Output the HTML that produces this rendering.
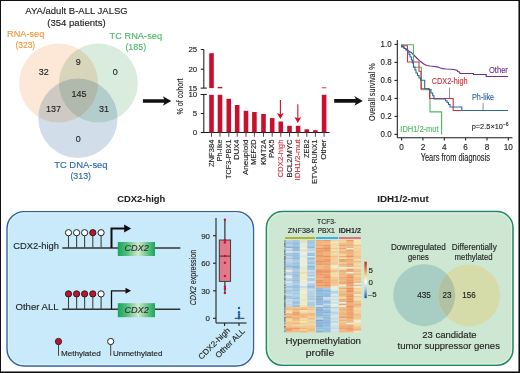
<!DOCTYPE html><html><head><meta charset="utf-8"><style>html,body{margin:0;padding:0;background:#fff;overflow:hidden}svg{display:block}text{font-family:"Liberation Sans",sans-serif}</style></head><body>
<svg width="520" height="373" viewBox="0 0 520 373">
<rect x="0" y="0" width="520" height="373" fill="#fff"/>
<text x="76.5" y="14.2" font-size="8.8" fill="#222" text-anchor="middle" font-weight="normal" font-style="normal" textLength="102.5" lengthAdjust="spacingAndGlyphs"  stroke="#222" stroke-width="0.13">AYA/adult B-ALL JALSG</text>
<text x="76.5" y="25.7" font-size="8.8" fill="#222" text-anchor="middle" font-weight="normal" font-style="normal" textLength="58.3" lengthAdjust="spacingAndGlyphs"  stroke="#222" stroke-width="0.13">(354 patients)</text>
<g style="isolation:isolate">
<circle cx="58.6" cy="83" r="39.5" fill="#fde7d6" style="mix-blend-mode:multiply"/>
<circle cx="98.4" cy="83" r="39.5" fill="#d9ecde" style="mix-blend-mode:multiply"/>
<circle cx="77.9" cy="118.3" r="39.7" fill="#d1deea" style="mix-blend-mode:multiply"/>
</g>
<text x="25.7" y="36.8" font-size="9.2" fill="#f39537" text-anchor="middle" font-weight="normal" font-style="normal" textLength="37.3" lengthAdjust="spacingAndGlyphs"  stroke="#f39537" stroke-width="0.13">RNA-seq</text>
<text x="25.3" y="48.0" font-size="9.2" fill="#f39537" text-anchor="middle" font-weight="normal" font-style="normal" textLength="19.7" lengthAdjust="spacingAndGlyphs"  stroke="#f39537" stroke-width="0.13">(323)</text>
<text x="135.8" y="39.1" font-size="9.2" fill="#4cba6a" text-anchor="middle" font-weight="normal" font-style="normal" textLength="52.6" lengthAdjust="spacingAndGlyphs"  stroke="#4cba6a" stroke-width="0.13">TC RNA-seq</text>
<text x="135.8" y="50.3" font-size="9.2" fill="#4cba6a" text-anchor="middle" font-weight="normal" font-style="normal" textLength="20.8" lengthAdjust="spacingAndGlyphs"  stroke="#4cba6a" stroke-width="0.13">(185)</text>
<text x="80.9" y="167.6" font-size="9.2" fill="#2d69a6" text-anchor="middle" font-weight="normal" font-style="normal" textLength="53.4" lengthAdjust="spacingAndGlyphs"  stroke="#2d69a6" stroke-width="0.13">TC DNA-seq</text>
<text x="80.7" y="179.4" font-size="9.2" fill="#2d69a6" text-anchor="middle" font-weight="normal" font-style="normal" textLength="20.6" lengthAdjust="spacingAndGlyphs"  stroke="#2d69a6" stroke-width="0.13">(313)</text>
<text x="43.8" y="74.5" font-size="9.8" fill="#222" text-anchor="middle" font-weight="normal" font-style="normal" textLength="10.0" lengthAdjust="spacingAndGlyphs"  stroke="#222" stroke-width="0.13">32</text>
<text x="78.2" y="65.4" font-size="9.8" fill="#222" text-anchor="middle" font-weight="normal" font-style="normal" textLength="5.0" lengthAdjust="spacingAndGlyphs"  stroke="#222" stroke-width="0.13">9</text>
<text x="115.2" y="74.6" font-size="9.8" fill="#222" text-anchor="middle" font-weight="normal" font-style="normal" textLength="5.0" lengthAdjust="spacingAndGlyphs"  stroke="#222" stroke-width="0.13">0</text>
<text x="78.9" y="96.5" font-size="9.8" fill="#222" text-anchor="middle" font-weight="normal" font-style="normal" textLength="15.0" lengthAdjust="spacingAndGlyphs"  stroke="#222" stroke-width="0.13">145</text>
<text x="53.6" y="111.5" font-size="9.8" fill="#222" text-anchor="middle" font-weight="normal" font-style="normal" textLength="15.0" lengthAdjust="spacingAndGlyphs"  stroke="#222" stroke-width="0.13">137</text>
<text x="104" y="111.5" font-size="9.8" fill="#222" text-anchor="middle" font-weight="normal" font-style="normal" textLength="10.0" lengthAdjust="spacingAndGlyphs"  stroke="#222" stroke-width="0.13">31</text>
<text x="78.3" y="142.1" font-size="9.8" fill="#222" text-anchor="middle" font-weight="normal" font-style="normal" textLength="5.0" lengthAdjust="spacingAndGlyphs"  stroke="#222" stroke-width="0.13">0</text>
<path d="M142.9,99.2 L164.3,99.2 L162.8,96.2 L171.3,101 L162.8,105.8 L164.3,102.8 L142.9,102.8 Z" fill="#111"/>
<path d="M334.2,99.10000000000001 L355.8,99.10000000000001 L354.3,96.10000000000001 L362.8,100.9 L354.3,105.7 L355.8,102.7 L334.2,102.7 Z" fill="#111"/>
<g stroke="#1a1a1a" stroke-width="1.05" fill="none">
<line x1="203.8" y1="49.5" x2="203.8" y2="88.1"/>
<line x1="200.8" y1="49.5" x2="203.8" y2="49.5"/>
<line x1="200.8" y1="69.2" x2="203.8" y2="69.2"/>
<line x1="200.60000000000002" y1="88.1" x2="206.8" y2="88.1"/>
<line x1="203.8" y1="94.5" x2="203.8" y2="132.4"/>
<line x1="200.60000000000002" y1="94.5" x2="206.8" y2="94.5"/>
<line x1="200.8" y1="113.5" x2="203.8" y2="113.5"/>
<line x1="200.8" y1="132.4" x2="329.6" y2="132.4"/>
</g>
<text x="197.2" y="52.3" font-size="7.9" fill="#222" text-anchor="end" font-weight="normal" font-style="normal"  stroke="#222" stroke-width="0.13">25</text>
<text x="197.2" y="72.0" font-size="7.9" fill="#222" text-anchor="end" font-weight="normal" font-style="normal"  stroke="#222" stroke-width="0.13">20</text>
<text x="197.2" y="90.89999999999999" font-size="7.9" fill="#222" text-anchor="end" font-weight="normal" font-style="normal"  stroke="#222" stroke-width="0.13">15</text>
<text x="197.2" y="97.3" font-size="7.9" fill="#222" text-anchor="end" font-weight="normal" font-style="normal"  stroke="#222" stroke-width="0.13">10</text>
<text x="197.2" y="116.3" font-size="7.9" fill="#222" text-anchor="end" font-weight="normal" font-style="normal"  stroke="#222" stroke-width="0.13">5</text>
<text x="197.2" y="135.20000000000002" font-size="7.9" fill="#222" text-anchor="end" font-weight="normal" font-style="normal"  stroke="#222" stroke-width="0.13">0</text>
<text transform="translate(183.0,96.5) rotate(-90)" font-size="9" fill="#222" text-anchor="middle" textLength="36" lengthAdjust="spacingAndGlyphs" stroke="#222" stroke-width="0.13">% of cohort</text>
<rect x="209.2" y="94.8" width="4.6" height="37.60000000000001" fill="#c8102e"/>
<line x1="211.5" y1="132.4" x2="211.5" y2="136.8" stroke="#222" stroke-width="0.8"/>
<text transform="translate(213.5,139.5) rotate(-90)" font-size="8.1" fill="#222" text-anchor="end" textLength="27.6" lengthAdjust="spacingAndGlyphs" stroke="#222" stroke-width="0.13">ZNF384</text>
<rect x="217.7" y="94.8" width="4.6" height="37.60000000000001" fill="#c8102e"/>
<line x1="220.0" y1="132.4" x2="220.0" y2="136.8" stroke="#222" stroke-width="0.8"/>
<text transform="translate(222.0,139.5) rotate(-90)" font-size="8.1" fill="#222" text-anchor="end" textLength="21.8" lengthAdjust="spacingAndGlyphs" stroke="#222" stroke-width="0.13">Ph-like</text>
<rect x="226.5" y="98.8" width="4.6" height="33.60000000000001" fill="#c8102e"/>
<line x1="228.8" y1="132.4" x2="228.8" y2="136.8" stroke="#222" stroke-width="0.8"/>
<text transform="translate(230.8,139.5) rotate(-90)" font-size="8.1" fill="#222" text-anchor="end" textLength="39.6" lengthAdjust="spacingAndGlyphs" stroke="#222" stroke-width="0.13">TCF3-PBX1</text>
<rect x="234.9" y="105" width="4.6" height="27.400000000000006" fill="#c8102e"/>
<line x1="237.20000000000002" y1="132.4" x2="237.20000000000002" y2="136.8" stroke="#222" stroke-width="0.8"/>
<text transform="translate(239.20000000000002,139.5) rotate(-90)" font-size="8.1" fill="#222" text-anchor="end" textLength="20.2" lengthAdjust="spacingAndGlyphs" stroke="#222" stroke-width="0.13">DUX4</text>
<rect x="243.7" y="110.8" width="4.6" height="21.60000000000001" fill="#c8102e"/>
<line x1="246.0" y1="132.4" x2="246.0" y2="136.8" stroke="#222" stroke-width="0.8"/>
<text transform="translate(248.0,139.5) rotate(-90)" font-size="8.1" fill="#222" text-anchor="end" textLength="35.6" lengthAdjust="spacingAndGlyphs" stroke="#222" stroke-width="0.13">Aneuploid</text>
<rect x="252.1" y="112" width="4.6" height="20.400000000000006" fill="#c8102e"/>
<line x1="254.4" y1="132.4" x2="254.4" y2="136.8" stroke="#222" stroke-width="0.8"/>
<text transform="translate(256.4,139.5) rotate(-90)" font-size="8.1" fill="#222" text-anchor="end" textLength="25.2" lengthAdjust="spacingAndGlyphs" stroke="#222" stroke-width="0.13">MEF2D</text>
<rect x="261.2" y="113.9" width="4.6" height="18.5" fill="#c8102e"/>
<line x1="263.5" y1="132.4" x2="263.5" y2="136.8" stroke="#222" stroke-width="0.8"/>
<text transform="translate(265.5,139.5) rotate(-90)" font-size="8.1" fill="#222" text-anchor="end" textLength="25.2" lengthAdjust="spacingAndGlyphs" stroke="#222" stroke-width="0.13">KMT2A</text>
<rect x="269.9" y="118.1" width="4.6" height="14.300000000000011" fill="#c8102e"/>
<line x1="272.2" y1="132.4" x2="272.2" y2="136.8" stroke="#222" stroke-width="0.8"/>
<text transform="translate(274.2,139.5) rotate(-90)" font-size="8.1" fill="#222" text-anchor="end" textLength="18.3" lengthAdjust="spacingAndGlyphs" stroke="#222" stroke-width="0.13">PAX5</text>
<rect x="278.5" y="121.5" width="4.6" height="10.900000000000006" fill="#c8102e"/>
<line x1="280.8" y1="132.4" x2="280.8" y2="136.8" stroke="#222" stroke-width="0.8"/>
<text transform="translate(282.8,139.5) rotate(-90)" font-size="8.1" fill="#d2303f" text-anchor="end" textLength="38.0" lengthAdjust="spacingAndGlyphs" stroke="#d2303f" stroke-width="0.13">CDX2-high</text>
<rect x="287.2" y="125.8" width="4.6" height="6.6000000000000085" fill="#c8102e"/>
<line x1="289.5" y1="132.4" x2="289.5" y2="136.8" stroke="#222" stroke-width="0.8"/>
<text transform="translate(291.5,139.5) rotate(-90)" font-size="8.1" fill="#222" text-anchor="end" textLength="38.0" lengthAdjust="spacingAndGlyphs" stroke="#222" stroke-width="0.13">BCL2/MYC</text>
<rect x="295.8" y="125.8" width="4.6" height="6.6000000000000085" fill="#c8102e"/>
<line x1="298.1" y1="132.4" x2="298.1" y2="136.8" stroke="#222" stroke-width="0.8"/>
<text transform="translate(300.1,139.5) rotate(-90)" font-size="8.1" fill="#d2303f" text-anchor="end" textLength="41.0" lengthAdjust="spacingAndGlyphs" stroke="#d2303f" stroke-width="0.13">IDH1/2-mut</text>
<rect x="304.5" y="129.3" width="4.6" height="3.0999999999999943" fill="#c8102e"/>
<line x1="306.8" y1="132.4" x2="306.8" y2="136.8" stroke="#222" stroke-width="0.8"/>
<text transform="translate(308.8,139.5) rotate(-90)" font-size="8.1" fill="#222" text-anchor="end" textLength="18.4" lengthAdjust="spacingAndGlyphs" stroke="#222" stroke-width="0.13">ZEB2</text>
<rect x="313.1" y="130.2" width="4.6" height="2.200000000000017" fill="#c8102e"/>
<line x1="315.40000000000003" y1="132.4" x2="315.40000000000003" y2="136.8" stroke="#222" stroke-width="0.8"/>
<text transform="translate(317.40000000000003,139.5) rotate(-90)" font-size="8.1" fill="#222" text-anchor="end" textLength="44.2" lengthAdjust="spacingAndGlyphs" stroke="#222" stroke-width="0.13">ETV6-RUNX1</text>
<rect x="321.8" y="94.8" width="4.6" height="37.60000000000001" fill="#c8102e"/>
<line x1="324.1" y1="132.4" x2="324.1" y2="136.8" stroke="#222" stroke-width="0.8"/>
<text transform="translate(326.1,139.5) rotate(-90)" font-size="8.1" fill="#222" text-anchor="end" textLength="20.2" lengthAdjust="spacingAndGlyphs" stroke="#222" stroke-width="0.13">Other</text>
<rect x="209.2" y="53.2" width="4.6" height="34.9" fill="#c8102e"/>
<rect x="217.7" y="86.9" width="4.6" height="1.4" fill="#c8102e"/>
<rect x="321.8" y="87.0" width="4.6" height="1.4" fill="#e8707e"/>
<line x1="280.4" y1="99.9" x2="280.4" y2="114.6" stroke="#c8102e" stroke-width="1.1"/>
<path d="M277.0,113.0 L280.4,119.0 L283.79999999999995,113.0 L280.4,114.3 Z" fill="#c8102e"/>
<line x1="297.8" y1="104.2" x2="297.8" y2="118.6" stroke="#c8102e" stroke-width="1.1"/>
<path d="M294.40000000000003,117.0 L297.8,123.0 L301.2,117.0 L297.8,118.3 Z" fill="#c8102e"/>
<g stroke="#1a1a1a" stroke-width="1.05" fill="none">
<line x1="397.3" y1="40" x2="397.3" y2="137.8"/>
<line x1="397.3" y1="137.8" x2="512.5" y2="137.8"/>
<line x1="394.5" y1="134.4" x2="397.3" y2="134.4"/>
<line x1="394.5" y1="116.4" x2="397.3" y2="116.4"/>
<line x1="394.5" y1="98.4" x2="397.3" y2="98.4"/>
<line x1="394.5" y1="80.4" x2="397.3" y2="80.4"/>
<line x1="394.5" y1="62.4" x2="397.3" y2="62.4"/>
<line x1="394.5" y1="44.4" x2="397.3" y2="44.4"/>
<line x1="401.6" y1="137.8" x2="401.6" y2="140.6"/>
<line x1="422.9" y1="137.8" x2="422.9" y2="140.6"/>
<line x1="444.3" y1="137.8" x2="444.3" y2="140.6"/>
<line x1="465.6" y1="137.8" x2="465.6" y2="140.6"/>
<line x1="487.0" y1="137.8" x2="487.0" y2="140.6"/>
<line x1="508.3" y1="137.8" x2="508.3" y2="140.6"/>
</g>
<text x="391.6" y="137.3" font-size="8.2" fill="#222" text-anchor="end" font-weight="normal" font-style="normal" textLength="11" lengthAdjust="spacingAndGlyphs"  stroke="#222" stroke-width="0.13">0.0</text>
<text x="391.6" y="119.30000000000001" font-size="8.2" fill="#222" text-anchor="end" font-weight="normal" font-style="normal" textLength="11" lengthAdjust="spacingAndGlyphs"  stroke="#222" stroke-width="0.13">0.2</text>
<text x="391.6" y="101.30000000000001" font-size="8.2" fill="#222" text-anchor="end" font-weight="normal" font-style="normal" textLength="11" lengthAdjust="spacingAndGlyphs"  stroke="#222" stroke-width="0.13">0.4</text>
<text x="391.6" y="83.30000000000001" font-size="8.2" fill="#222" text-anchor="end" font-weight="normal" font-style="normal" textLength="11" lengthAdjust="spacingAndGlyphs"  stroke="#222" stroke-width="0.13">0.6</text>
<text x="391.6" y="65.30000000000001" font-size="8.2" fill="#222" text-anchor="end" font-weight="normal" font-style="normal" textLength="11" lengthAdjust="spacingAndGlyphs"  stroke="#222" stroke-width="0.13">0.8</text>
<text x="391.6" y="47.300000000000004" font-size="8.2" fill="#222" text-anchor="end" font-weight="normal" font-style="normal" textLength="11" lengthAdjust="spacingAndGlyphs"  stroke="#222" stroke-width="0.13">1.0</text>
<text x="401.6" y="149.7" font-size="8.2" fill="#222" text-anchor="middle" font-weight="normal" font-style="normal"  stroke="#222" stroke-width="0.13">0</text>
<text x="422.94" y="149.7" font-size="8.2" fill="#222" text-anchor="middle" font-weight="normal" font-style="normal"  stroke="#222" stroke-width="0.13">2</text>
<text x="444.28000000000003" y="149.7" font-size="8.2" fill="#222" text-anchor="middle" font-weight="normal" font-style="normal"  stroke="#222" stroke-width="0.13">4</text>
<text x="465.62" y="149.7" font-size="8.2" fill="#222" text-anchor="middle" font-weight="normal" font-style="normal"  stroke="#222" stroke-width="0.13">6</text>
<text x="486.96000000000004" y="149.7" font-size="8.2" fill="#222" text-anchor="middle" font-weight="normal" font-style="normal"  stroke="#222" stroke-width="0.13">8</text>
<text x="508.3" y="149.7" font-size="8.2" fill="#222" text-anchor="middle" font-weight="normal" font-style="normal"  stroke="#222" stroke-width="0.13">10</text>
<text x="455.3" y="161.1" font-size="10" fill="#222" text-anchor="middle" font-weight="normal" font-style="normal" textLength="69.2" lengthAdjust="spacingAndGlyphs"  stroke="#222" stroke-width="0.13">Years from diagnosis</text>
<text transform="translate(374.6,92.2) rotate(-90)" font-size="9.8" fill="#222" text-anchor="middle" textLength="57.5" lengthAdjust="spacingAndGlyphs" stroke="#222" stroke-width="0.13">Overall survival %</text>
<path d="M401.7,44.8 L401.7,45.5 L403,46.5 L404.6,48.1 L406.5,49.5 L408.7,51 L411.5,52.7 L413.8,55 L417.3,58.5 L420.2,61.3 L422.5,63 L424.5,64.5 L427,65.5 L430,66 L434.6,66.5 L438.1,67.1 L440.5,68 L442.7,68.6 L446.2,69 L451.9,69.3 L455,69.8 L457.3,70.4 L457.5,71.5 L459.5,72 L460,73.5 L473.5,73.5 L473.5,74.5 L486.2,74.5 L486.2,76.5 L508.1,76.5" stroke="#6a2d8a" stroke-width="1.1" fill="none" stroke-linejoin="miter"/>
<path d="M401.8,44.8 L413.5,44.8 L413.5,67.3 L421.4,67.3 L421.4,89.8 L430,89.8 L430,111.9 L441.6,111.9 L441.6,134.4" stroke="#4cbb5e" stroke-width="1.1" fill="none" stroke-linejoin="miter"/>
<path d="M401.6,45.8 L407.5,45.8 L407.5,62 L419,62 L419,71.3 L421,71.3 L421,88.8 L429.5,88.8 L429.5,98.5 L453.2,98.5 L453.2,110.5 L461.3,110.5" stroke="#d3313f" stroke-width="1.1" fill="none" stroke-linejoin="miter"/>
<path d="M401.6,44.5 L401.6,47 L404,47 L404,48.5 L406,48.5 L406,50 L407.5,50 L407.5,52 L409,52 L409,54.5 L410,54.5 L410,57 L411.5,57 L411.5,60 L412.5,60 L412.5,63 L413.5,63 L413.5,67 L415,67 L415,70 L416,70 L416,73 L417.5,73 L417.5,75.5 L419,75.5 L419,78 L420.5,78 L420.5,80.3 L424.7,80.3 L424.7,88.8 L428.4,88.8 L428.4,89.5 L431,89.5 L431,93 L432.7,93 L432.7,95.7 L434,95.7 L434,99 L445.5,99 L445.5,100.8 L447,100.8 L447,102.5 L448.5,102.5 L448.5,104.5 L450,104.5 L450,107 L461.8,107 L461.8,110.5 L508,110.5" stroke="#2b66a6" stroke-width="1.1" fill="none" stroke-linejoin="miter"/>
<line x1="449.5" y1="87.7" x2="449.5" y2="98.4" stroke="#888" stroke-width="0.9"/>
<line x1="483.1" y1="102.8" x2="483.1" y2="110.5" stroke="#888" stroke-width="0.9"/>
<text x="498.4" y="73.1" font-size="8.2" fill="#6a2d8a" text-anchor="middle" font-weight="normal" font-style="normal" textLength="19" lengthAdjust="spacingAndGlyphs"  stroke="#6a2d8a" stroke-width="0.13">Other</text>
<text x="449.7" y="84.4" font-size="8.2" fill="#d3313f" text-anchor="middle" font-weight="normal" font-style="normal" textLength="35.8" lengthAdjust="spacingAndGlyphs"  stroke="#d3313f" stroke-width="0.13">CDX2-high</text>
<text x="483.1" y="99.5" font-size="8.2" fill="#2b66a6" text-anchor="middle" font-weight="normal" font-style="normal" textLength="22.1" lengthAdjust="spacingAndGlyphs"  stroke="#2b66a6" stroke-width="0.13">Ph-like</text>
<text x="400.3" y="132.0" font-size="8.4" fill="#4cbb5e" text-anchor="start" font-weight="normal" font-style="normal" textLength="38.3" lengthAdjust="spacingAndGlyphs"  stroke="#4cbb5e" stroke-width="0.13">IDH1/2-mut</text>
<text x="471.7" y="129.4" font-size="7.4" fill="#222" stroke="#222" stroke-width="0.13">p=2.5×10<tspan dy="-3" font-size="5">−6</tspan></text>
<text x="141.3" y="202.3" font-size="9.4" fill="#222" text-anchor="middle" font-weight="bold" font-style="normal" textLength="48" lengthAdjust="spacingAndGlyphs"  stroke="#222" stroke-width="0.05">CDX2-high</text>
<rect x="7" y="211.6" width="246.5" height="154.4" rx="17" fill="#c9eafb" stroke="#2f5fa0" stroke-width="1.4"/>
<rect x="8.4" y="213" width="243.7" height="151.6" rx="15.6" fill="none" stroke="#e4f4fc" stroke-width="1"/>
<defs><linearGradient id="gbox" x1="0" y1="0" x2="1" y2="0"><stop offset="0" stop-color="#1aa65a"/><stop offset="0.22" stop-color="#4cba78"/><stop offset="0.55" stop-color="#cfeacd"/><stop offset="0.82" stop-color="#5cbf82"/><stop offset="1" stop-color="#1aa65a"/></linearGradient><linearGradient id="leg" x1="0" y1="0" x2="0" y2="1"><stop offset="0" stop-color="#c8202a"/><stop offset="0.22" stop-color="#f08040"/><stop offset="0.4" stop-color="#f8e080"/><stop offset="0.55" stop-color="#ffffff"/><stop offset="0.75" stop-color="#a8c8e8"/><stop offset="1" stop-color="#2050a0"/></linearGradient></defs>
<line x1="62.3" y1="248" x2="180.3" y2="248" stroke="#333" stroke-width="1.4"/>
<line x1="68.5" y1="232.7" x2="68.5" y2="248" stroke="#444" stroke-width="1.1"/>
<circle cx="68.5" cy="232.7" r="3.1" fill="#fff" stroke="#222" stroke-width="1"/>
<line x1="76.6" y1="232.7" x2="76.6" y2="248" stroke="#444" stroke-width="1.1"/>
<circle cx="76.6" cy="232.7" r="3.1" fill="#fff" stroke="#222" stroke-width="1"/>
<line x1="84.6" y1="232.7" x2="84.6" y2="248" stroke="#444" stroke-width="1.1"/>
<circle cx="84.6" cy="232.7" r="3.1" fill="#fff" stroke="#222" stroke-width="1"/>
<line x1="92.8" y1="232.7" x2="92.8" y2="248" stroke="#444" stroke-width="1.1"/>
<circle cx="92.8" cy="232.7" r="3.1" fill="#c8102e" stroke="#222" stroke-width="1"/>
<line x1="101.1" y1="232.7" x2="101.1" y2="248" stroke="#444" stroke-width="1.1"/>
<circle cx="101.1" cy="232.7" r="3.1" fill="#fff" stroke="#222" stroke-width="1"/>
<path d="M111.5,248 L111.5,228.5 L124.6,228.5" stroke="#111" stroke-width="2.0" fill="none"/>
<path d="M124.1,224.6 L131.1,228.5 L124.1,232.4 Z" fill="#111"/>
<rect x="117.8" y="242" width="37.2" height="14" fill="url(#gbox)"/>
<text x="136.6" y="251.4" font-size="9.3" font-style="italic" fill="#333" text-anchor="middle" textLength="24.4" lengthAdjust="spacingAndGlyphs" stroke="#333" stroke-width="0.13">CDX2</text>
<line x1="62.3" y1="309.2" x2="180.3" y2="309.2" stroke="#333" stroke-width="1.4"/>
<line x1="68.5" y1="293.9" x2="68.5" y2="309.2" stroke="#444" stroke-width="1.1"/>
<circle cx="68.5" cy="293.9" r="3.1" fill="#c8102e" stroke="#222" stroke-width="1"/>
<line x1="76.6" y1="293.9" x2="76.6" y2="309.2" stroke="#444" stroke-width="1.1"/>
<circle cx="76.6" cy="293.9" r="3.1" fill="#c8102e" stroke="#222" stroke-width="1"/>
<line x1="84.6" y1="293.9" x2="84.6" y2="309.2" stroke="#444" stroke-width="1.1"/>
<circle cx="84.6" cy="293.9" r="3.1" fill="#c8102e" stroke="#222" stroke-width="1"/>
<line x1="92.8" y1="293.9" x2="92.8" y2="309.2" stroke="#444" stroke-width="1.1"/>
<circle cx="92.8" cy="293.9" r="3.1" fill="#c8102e" stroke="#222" stroke-width="1"/>
<line x1="101.1" y1="293.9" x2="101.1" y2="309.2" stroke="#444" stroke-width="1.1"/>
<circle cx="101.1" cy="293.9" r="3.1" fill="#fff" stroke="#222" stroke-width="1"/>
<path d="M111.5,309.2 L111.5,290.8 L126,290.8" stroke="#111" stroke-width="1.3" fill="none"/>
<path d="M125.5,287.8 L131.1,290.8 L125.5,293.8 Z" fill="#111"/>
<rect x="117.8" y="303.2" width="37.2" height="14" fill="url(#gbox)"/>
<text x="136.6" y="312.59999999999997" font-size="9.3" font-style="italic" fill="#333" text-anchor="middle" textLength="24.4" lengthAdjust="spacingAndGlyphs" stroke="#333" stroke-width="0.13">CDX2</text>
<text x="36.1" y="248.9" font-size="9.9" fill="#222" text-anchor="middle" font-weight="normal" font-style="normal" textLength="45.8" lengthAdjust="spacingAndGlyphs"  stroke="#222" stroke-width="0.13">CDX2-high</text>
<text x="37.1" y="309.6" font-size="9.9" fill="#222" text-anchor="middle" font-weight="normal" font-style="normal" textLength="43.2" lengthAdjust="spacingAndGlyphs"  stroke="#222" stroke-width="0.13">Other ALL</text>
<line x1="58.5" y1="341.5" x2="58.5" y2="355.8" stroke="#444" stroke-width="1"/>
<circle cx="58.5" cy="341.5" r="3.1" fill="#c8102e" stroke="#222" stroke-width="1"/>
<line x1="110.7" y1="341.5" x2="110.7" y2="355.8" stroke="#444" stroke-width="1"/>
<circle cx="110.7" cy="341.5" r="3.1" fill="#fff" stroke="#222" stroke-width="1"/>
<text x="60.9" y="355.8" font-size="8" fill="#222" text-anchor="start" font-weight="normal" font-style="normal" textLength="39.8" lengthAdjust="spacingAndGlyphs"  stroke="#222" stroke-width="0.13">Methylated</text>
<text x="112.9" y="355.8" font-size="8" fill="#222" text-anchor="start" font-weight="normal" font-style="normal" textLength="49.6" lengthAdjust="spacingAndGlyphs"  stroke="#222" stroke-width="0.13">Unmethylated</text>
<g stroke="#222" stroke-width="1.1" fill="none">
<line x1="216" y1="218" x2="216" y2="323"/>
<line x1="216" y1="323" x2="246.5" y2="323"/>
<line x1="213" y1="235.7" x2="216" y2="235.7"/>
<line x1="213" y1="263.2" x2="216" y2="263.2"/>
<line x1="213" y1="290.8" x2="216" y2="290.8"/>
<line x1="213" y1="318.3" x2="216" y2="318.3"/>
<line x1="224.6" y1="323" x2="224.6" y2="326"/>
<line x1="239" y1="323" x2="239" y2="326"/>
<line x1="224.9" y1="219.7" x2="224.9" y2="240"/>
<line x1="224.9" y1="281.4" x2="224.9" y2="293"/>
</g>
<rect x="219.3" y="240" width="11.3" height="41.4" fill="#e07a8a" stroke="#333" stroke-width="0.9"/>
<line x1="219.3" y1="256.1" x2="230.6" y2="256.1" stroke="#333" stroke-width="1"/>
<circle cx="224.9" cy="219.7" r="1.2" fill="#d0102e"/>
<circle cx="224.9" cy="240.5" r="1.2" fill="#d0102e"/>
<circle cx="224.9" cy="242.5" r="1.2" fill="#d0102e"/>
<circle cx="224.9" cy="256" r="1.2" fill="#d0102e"/>
<circle cx="224.9" cy="262.8" r="1.2" fill="#d0102e"/>
<circle cx="224.9" cy="276" r="1.2" fill="#d0102e"/>
<circle cx="224.9" cy="286.7" r="1.2" fill="#d0102e"/>
<circle cx="224.9" cy="288.9" r="1.2" fill="#d0102e"/>
<circle cx="224.9" cy="293" r="1.2" fill="#d0102e"/>
<line x1="234.7" y1="318.3" x2="244.4" y2="318.3" stroke="#333" stroke-width="1"/>
<circle cx="239" cy="308" r="1.2" fill="#1d5fa6"/>
<circle cx="239" cy="312.3" r="1.2" fill="#1d5fa6"/>
<circle cx="239" cy="314.4" r="1.2" fill="#1d5fa6"/>
<circle cx="239" cy="316.5" r="1.2" fill="#1d5fa6"/>
<circle cx="239" cy="318.3" r="1.2" fill="#1d5fa6"/>
<text x="210" y="238.5" font-size="7.9" fill="#222" text-anchor="end" font-weight="normal" font-style="normal"  stroke="#222" stroke-width="0.13">90</text>
<text x="210" y="266.0" font-size="7.9" fill="#222" text-anchor="end" font-weight="normal" font-style="normal"  stroke="#222" stroke-width="0.13">60</text>
<text x="210" y="293.6" font-size="7.9" fill="#222" text-anchor="end" font-weight="normal" font-style="normal"  stroke="#222" stroke-width="0.13">30</text>
<text x="210" y="321.1" font-size="7.9" fill="#222" text-anchor="end" font-weight="normal" font-style="normal"  stroke="#222" stroke-width="0.13">0</text>
<text transform="translate(196.4,277.6) rotate(-90)" font-size="9.8" fill="#222" text-anchor="middle" textLength="55.5" lengthAdjust="spacingAndGlyphs" stroke="#222" stroke-width="0.13"><tspan font-style="italic">CDX2</tspan> expression</text>
<text transform="translate(230.5,331) rotate(-45)" font-size="8" fill="#222" text-anchor="end" textLength="41" lengthAdjust="spacingAndGlyphs" stroke="#222" stroke-width="0.13">CDX2-high</text>
<text transform="translate(245.3,331.6) rotate(-45)" font-size="8" fill="#222" text-anchor="end" textLength="38" lengthAdjust="spacingAndGlyphs" stroke="#222" stroke-width="0.13">Other ALL</text>
<text x="403" y="202.3" font-size="9.4" fill="#222" text-anchor="middle" font-weight="bold" font-style="normal" textLength="51.5" lengthAdjust="spacingAndGlyphs"  stroke="#222" stroke-width="0.05">IDH1/2-mut</text>
<rect x="266.4" y="211.5" width="246.6" height="153.8" rx="16" fill="#cee7d2" stroke="#1f8a5b" stroke-width="1.5"/>
<rect x="267.9" y="213" width="243.6" height="150.8" rx="14.5" fill="none" stroke="#e2f2e4" stroke-width="1"/>
<text x="300.9" y="233.3" font-size="7.7" fill="#222" text-anchor="middle" font-weight="normal" font-style="normal" textLength="26.2" lengthAdjust="spacingAndGlyphs"  stroke="#222" stroke-width="0.13">ZNF384</text>
<text x="326.7" y="224.0" font-size="7.7" fill="#222" text-anchor="middle" font-weight="normal" font-style="normal" textLength="19.2" lengthAdjust="spacingAndGlyphs"  stroke="#222" stroke-width="0.13">TCF3-</text>
<text x="326.2" y="233.3" font-size="7.7" fill="#222" text-anchor="middle" font-weight="normal" font-style="normal" textLength="17.3" lengthAdjust="spacingAndGlyphs"  stroke="#222" stroke-width="0.13">PBX1</text>
<text x="349.8" y="233.3" font-size="7.9" fill="#222" text-anchor="middle" font-weight="bold" font-style="normal" textLength="22.3" lengthAdjust="spacingAndGlyphs"  stroke="#222" stroke-width="0.05">IDH1/2</text>
<rect x="285" y="237" width="30" height="2" fill="#b3b22c"/>
<rect x="316" y="237" width="22.2" height="2" fill="#35b2e8"/>
<rect x="339" y="237" width="21.8" height="2" fill="#ef6f74"/>
<rect x="284.9" y="240.00" width="7.55" height="1.64" fill="rgb(182,210,235)"/>
<rect x="292.4" y="240.00" width="7.45" height="1.64" fill="rgb(165,199,229)"/>
<rect x="299.8" y="240.00" width="7.55" height="1.64" fill="rgb(247,220,164)"/>
<rect x="307.3" y="240.00" width="7.55" height="1.64" fill="rgb(164,199,229)"/>
<rect x="315.9" y="240.00" width="7.45" height="1.64" fill="rgb(243,164,109)"/>
<rect x="323.3" y="240.00" width="7.45" height="1.64" fill="rgb(240,152,100)"/>
<rect x="330.7" y="240.00" width="7.45" height="1.64" fill="rgb(247,208,149)"/>
<rect x="339.1" y="240.00" width="7.35" height="1.64" fill="rgb(247,204,145)"/>
<rect x="346.4" y="240.00" width="7.35" height="1.64" fill="rgb(240,150,99)"/>
<rect x="353.7" y="240.00" width="7.35" height="1.64" fill="rgb(247,231,179)"/>
<rect x="284.9" y="241.59" width="7.55" height="1.64" fill="rgb(162,197,228)"/>
<rect x="292.4" y="241.59" width="7.45" height="1.64" fill="rgb(154,193,226)"/>
<rect x="299.8" y="241.59" width="7.55" height="1.64" fill="rgb(212,227,233)"/>
<rect x="307.3" y="241.59" width="7.55" height="1.64" fill="rgb(156,194,227)"/>
<rect x="315.9" y="241.59" width="7.45" height="1.64" fill="rgb(244,179,121)"/>
<rect x="323.3" y="241.59" width="7.45" height="1.64" fill="rgb(245,182,125)"/>
<rect x="330.7" y="241.59" width="7.45" height="1.64" fill="rgb(245,235,194)"/>
<rect x="339.1" y="241.59" width="7.35" height="1.64" fill="rgb(247,208,149)"/>
<rect x="346.4" y="241.59" width="7.35" height="1.64" fill="rgb(245,186,128)"/>
<rect x="353.7" y="241.59" width="7.35" height="1.64" fill="rgb(247,227,173)"/>
<rect x="284.9" y="243.19" width="7.55" height="1.64" fill="rgb(162,198,229)"/>
<rect x="292.4" y="243.19" width="7.45" height="1.64" fill="rgb(143,184,222)"/>
<rect x="299.8" y="243.19" width="7.55" height="1.64" fill="rgb(227,235,232)"/>
<rect x="307.3" y="243.19" width="7.55" height="1.64" fill="rgb(163,198,229)"/>
<rect x="315.9" y="243.19" width="7.45" height="1.64" fill="rgb(244,175,118)"/>
<rect x="323.3" y="243.19" width="7.45" height="1.64" fill="rgb(245,184,126)"/>
<rect x="330.7" y="243.19" width="7.45" height="1.64" fill="rgb(247,215,158)"/>
<rect x="339.1" y="243.19" width="7.35" height="1.64" fill="rgb(245,185,127)"/>
<rect x="346.4" y="243.19" width="7.35" height="1.64" fill="rgb(244,178,121)"/>
<rect x="353.7" y="243.19" width="7.35" height="1.64" fill="rgb(247,230,178)"/>
<rect x="284.9" y="244.78" width="7.55" height="1.64" fill="rgb(185,212,235)"/>
<rect x="292.4" y="244.78" width="7.45" height="1.64" fill="rgb(165,199,229)"/>
<rect x="299.8" y="244.78" width="7.55" height="1.64" fill="rgb(227,235,232)"/>
<rect x="307.3" y="244.78" width="7.55" height="1.64" fill="rgb(170,202,231)"/>
<rect x="315.9" y="244.78" width="7.45" height="1.64" fill="rgb(243,164,109)"/>
<rect x="323.3" y="244.78" width="7.45" height="1.64" fill="rgb(240,152,101)"/>
<rect x="330.7" y="244.78" width="7.45" height="1.64" fill="rgb(247,218,162)"/>
<rect x="339.1" y="244.78" width="7.35" height="1.64" fill="rgb(242,161,107)"/>
<rect x="346.4" y="244.78" width="7.35" height="1.64" fill="rgb(244,172,116)"/>
<rect x="353.7" y="244.78" width="7.35" height="1.64" fill="rgb(246,195,135)"/>
<rect x="284.9" y="246.37" width="7.55" height="1.64" fill="rgb(135,178,218)"/>
<rect x="292.4" y="246.37" width="7.45" height="1.64" fill="rgb(137,179,219)"/>
<rect x="299.8" y="246.37" width="7.55" height="1.64" fill="rgb(247,233,181)"/>
<rect x="307.3" y="246.37" width="7.55" height="1.64" fill="rgb(144,185,222)"/>
<rect x="315.9" y="246.37" width="7.45" height="1.64" fill="rgb(245,182,124)"/>
<rect x="323.3" y="246.37" width="7.45" height="1.64" fill="rgb(241,158,105)"/>
<rect x="330.7" y="246.37" width="7.45" height="1.64" fill="rgb(247,220,165)"/>
<rect x="339.1" y="246.37" width="7.35" height="1.64" fill="rgb(246,193,134)"/>
<rect x="346.4" y="246.37" width="7.35" height="1.64" fill="rgb(244,176,119)"/>
<rect x="353.7" y="246.37" width="7.35" height="1.64" fill="rgb(247,215,158)"/>
<rect x="284.9" y="247.97" width="7.55" height="1.64" fill="rgb(208,225,234)"/>
<rect x="292.4" y="247.97" width="7.45" height="1.64" fill="rgb(148,188,224)"/>
<rect x="299.8" y="247.97" width="7.55" height="1.64" fill="rgb(237,239,226)"/>
<rect x="307.3" y="247.97" width="7.55" height="1.64" fill="rgb(182,210,235)"/>
<rect x="315.9" y="247.97" width="7.45" height="1.64" fill="rgb(239,148,98)"/>
<rect x="323.3" y="247.97" width="7.45" height="1.64" fill="rgb(238,140,92)"/>
<rect x="330.7" y="247.97" width="7.45" height="1.64" fill="rgb(246,200,140)"/>
<rect x="339.1" y="247.97" width="7.35" height="1.64" fill="rgb(242,162,108)"/>
<rect x="346.4" y="247.97" width="7.35" height="1.64" fill="rgb(236,240,232)"/>
<rect x="353.7" y="247.97" width="7.35" height="1.64" fill="rgb(247,206,148)"/>
<rect x="284.9" y="249.56" width="7.55" height="1.64" fill="rgb(179,208,234)"/>
<rect x="292.4" y="249.56" width="7.45" height="1.64" fill="rgb(143,184,222)"/>
<rect x="299.8" y="249.56" width="7.55" height="1.64" fill="rgb(210,225,234)"/>
<rect x="307.3" y="249.56" width="7.55" height="1.64" fill="rgb(184,211,235)"/>
<rect x="315.9" y="249.56" width="7.45" height="1.64" fill="rgb(243,163,108)"/>
<rect x="323.3" y="249.56" width="7.45" height="1.64" fill="rgb(239,148,98)"/>
<rect x="330.7" y="249.56" width="7.45" height="1.64" fill="rgb(247,230,177)"/>
<rect x="339.1" y="249.56" width="7.35" height="1.64" fill="rgb(246,200,140)"/>
<rect x="346.4" y="249.56" width="7.35" height="1.64" fill="rgb(242,162,108)"/>
<rect x="353.7" y="249.56" width="7.35" height="1.64" fill="rgb(247,212,154)"/>
<rect x="284.9" y="251.15" width="7.55" height="1.64" fill="rgb(229,236,232)"/>
<rect x="292.4" y="251.15" width="7.45" height="1.64" fill="rgb(200,220,234)"/>
<rect x="299.8" y="251.15" width="7.55" height="1.64" fill="rgb(241,237,209)"/>
<rect x="307.3" y="251.15" width="7.55" height="1.64" fill="rgb(215,228,233)"/>
<rect x="315.9" y="251.15" width="7.45" height="1.64" fill="rgb(239,145,95)"/>
<rect x="323.3" y="251.15" width="7.45" height="1.64" fill="rgb(243,165,110)"/>
<rect x="330.7" y="251.15" width="7.45" height="1.64" fill="rgb(246,200,141)"/>
<rect x="339.1" y="251.15" width="7.35" height="1.64" fill="rgb(244,169,113)"/>
<rect x="346.4" y="251.15" width="7.35" height="1.64" fill="rgb(243,164,109)"/>
<rect x="353.7" y="251.15" width="7.35" height="1.64" fill="rgb(246,200,140)"/>
<rect x="284.9" y="252.74" width="7.55" height="1.64" fill="rgb(168,201,230)"/>
<rect x="292.4" y="252.74" width="7.45" height="1.64" fill="rgb(151,190,225)"/>
<rect x="299.8" y="252.74" width="7.55" height="1.64" fill="rgb(234,239,232)"/>
<rect x="307.3" y="252.74" width="7.55" height="1.64" fill="rgb(159,195,227)"/>
<rect x="315.9" y="252.74" width="7.45" height="1.64" fill="rgb(244,172,116)"/>
<rect x="323.3" y="252.74" width="7.45" height="1.64" fill="rgb(244,175,118)"/>
<rect x="330.7" y="252.74" width="7.45" height="1.64" fill="rgb(247,220,164)"/>
<rect x="339.1" y="252.74" width="7.35" height="1.64" fill="rgb(246,195,135)"/>
<rect x="346.4" y="252.74" width="7.35" height="1.64" fill="rgb(244,175,118)"/>
<rect x="353.7" y="252.74" width="7.35" height="1.64" fill="rgb(247,206,147)"/>
<rect x="284.9" y="254.34" width="7.55" height="1.64" fill="rgb(160,196,228)"/>
<rect x="292.4" y="254.34" width="7.45" height="1.64" fill="rgb(148,188,224)"/>
<rect x="299.8" y="254.34" width="7.55" height="1.64" fill="rgb(227,235,232)"/>
<rect x="307.3" y="254.34" width="7.55" height="1.64" fill="rgb(148,188,224)"/>
<rect x="315.9" y="254.34" width="7.45" height="1.64" fill="rgb(240,150,99)"/>
<rect x="323.3" y="254.34" width="7.45" height="1.64" fill="rgb(244,172,115)"/>
<rect x="330.7" y="254.34" width="7.45" height="1.64" fill="rgb(247,212,155)"/>
<rect x="339.1" y="254.34" width="7.35" height="1.64" fill="rgb(247,215,158)"/>
<rect x="346.4" y="254.34" width="7.35" height="1.64" fill="rgb(244,173,116)"/>
<rect x="353.7" y="254.34" width="7.35" height="1.64" fill="rgb(247,204,145)"/>
<rect x="284.9" y="255.93" width="7.55" height="1.64" fill="rgb(192,216,235)"/>
<rect x="292.4" y="255.93" width="7.45" height="1.64" fill="rgb(154,193,226)"/>
<rect x="299.8" y="255.93" width="7.55" height="1.64" fill="rgb(218,230,233)"/>
<rect x="307.3" y="255.93" width="7.55" height="1.64" fill="rgb(220,231,233)"/>
<rect x="315.9" y="255.93" width="7.45" height="1.64" fill="rgb(240,152,100)"/>
<rect x="323.3" y="255.93" width="7.45" height="1.64" fill="rgb(238,140,92)"/>
<rect x="330.7" y="255.93" width="7.45" height="1.64" fill="rgb(245,190,131)"/>
<rect x="339.1" y="255.93" width="7.35" height="1.64" fill="rgb(243,167,111)"/>
<rect x="346.4" y="255.93" width="7.35" height="1.64" fill="rgb(238,140,92)"/>
<rect x="353.7" y="255.93" width="7.35" height="1.64" fill="rgb(245,190,131)"/>
<rect x="284.9" y="257.52" width="7.55" height="1.64" fill="rgb(169,202,231)"/>
<rect x="292.4" y="257.52" width="7.45" height="1.64" fill="rgb(143,184,222)"/>
<rect x="299.8" y="257.52" width="7.55" height="1.64" fill="rgb(233,238,232)"/>
<rect x="307.3" y="257.52" width="7.55" height="1.64" fill="rgb(144,185,222)"/>
<rect x="315.9" y="257.52" width="7.45" height="1.64" fill="rgb(244,170,114)"/>
<rect x="323.3" y="257.52" width="7.45" height="1.64" fill="rgb(244,177,120)"/>
<rect x="330.7" y="257.52" width="7.45" height="1.64" fill="rgb(247,208,150)"/>
<rect x="339.1" y="257.52" width="7.35" height="1.64" fill="rgb(247,223,168)"/>
<rect x="346.4" y="257.52" width="7.35" height="1.64" fill="rgb(246,200,140)"/>
<rect x="353.7" y="257.52" width="7.35" height="1.64" fill="rgb(246,199,139)"/>
<rect x="284.9" y="259.12" width="7.55" height="1.64" fill="rgb(190,214,235)"/>
<rect x="292.4" y="259.12" width="7.45" height="1.64" fill="rgb(162,198,229)"/>
<rect x="299.8" y="259.12" width="7.55" height="1.64" fill="rgb(238,238,222)"/>
<rect x="307.3" y="259.12" width="7.55" height="1.64" fill="rgb(169,202,231)"/>
<rect x="315.9" y="259.12" width="7.45" height="1.64" fill="rgb(243,166,110)"/>
<rect x="323.3" y="259.12" width="7.45" height="1.64" fill="rgb(239,146,96)"/>
<rect x="330.7" y="259.12" width="7.45" height="1.64" fill="rgb(246,201,141)"/>
<rect x="339.1" y="259.12" width="7.35" height="1.64" fill="rgb(240,152,100)"/>
<rect x="346.4" y="259.12" width="7.35" height="1.64" fill="rgb(242,159,106)"/>
<rect x="353.7" y="259.12" width="7.35" height="1.64" fill="rgb(247,226,173)"/>
<rect x="284.9" y="260.71" width="7.55" height="1.64" fill="rgb(193,216,235)"/>
<rect x="292.4" y="260.71" width="7.45" height="1.64" fill="rgb(174,205,232)"/>
<rect x="299.8" y="260.71" width="7.55" height="1.64" fill="rgb(239,238,215)"/>
<rect x="307.3" y="260.71" width="7.55" height="1.64" fill="rgb(175,206,233)"/>
<rect x="315.9" y="260.71" width="7.45" height="1.64" fill="rgb(238,140,92)"/>
<rect x="323.3" y="260.71" width="7.45" height="1.64" fill="rgb(240,149,98)"/>
<rect x="330.7" y="260.71" width="7.45" height="1.64" fill="rgb(247,212,154)"/>
<rect x="339.1" y="260.71" width="7.35" height="1.64" fill="rgb(243,164,109)"/>
<rect x="346.4" y="260.71" width="7.35" height="1.64" fill="rgb(245,179,122)"/>
<rect x="353.7" y="260.71" width="7.35" height="1.64" fill="rgb(245,183,125)"/>
<rect x="284.9" y="262.30" width="7.55" height="1.64" fill="rgb(176,206,233)"/>
<rect x="292.4" y="262.30" width="7.45" height="1.64" fill="rgb(154,192,226)"/>
<rect x="299.8" y="262.30" width="7.55" height="1.64" fill="rgb(238,238,222)"/>
<rect x="307.3" y="262.30" width="7.55" height="1.64" fill="rgb(150,190,225)"/>
<rect x="315.9" y="262.30" width="7.45" height="1.64" fill="rgb(242,159,106)"/>
<rect x="323.3" y="262.30" width="7.45" height="1.64" fill="rgb(243,164,109)"/>
<rect x="330.7" y="262.30" width="7.45" height="1.64" fill="rgb(246,197,138)"/>
<rect x="339.1" y="262.30" width="7.35" height="1.64" fill="rgb(247,203,144)"/>
<rect x="346.4" y="262.30" width="7.35" height="1.64" fill="rgb(244,172,116)"/>
<rect x="353.7" y="262.30" width="7.35" height="1.64" fill="rgb(247,209,151)"/>
<rect x="284.9" y="263.90" width="7.55" height="1.64" fill="rgb(173,204,232)"/>
<rect x="292.4" y="263.90" width="7.45" height="1.64" fill="rgb(164,199,229)"/>
<rect x="299.8" y="263.90" width="7.55" height="1.64" fill="rgb(236,239,231)"/>
<rect x="307.3" y="263.90" width="7.55" height="1.64" fill="rgb(186,212,235)"/>
<rect x="315.9" y="263.90" width="7.45" height="1.64" fill="rgb(241,155,102)"/>
<rect x="323.3" y="263.90" width="7.45" height="1.64" fill="rgb(241,157,104)"/>
<rect x="330.7" y="263.90" width="7.45" height="1.64" fill="rgb(247,210,152)"/>
<rect x="339.1" y="263.90" width="7.35" height="1.64" fill="rgb(244,173,116)"/>
<rect x="346.4" y="263.90" width="7.35" height="1.64" fill="rgb(242,160,106)"/>
<rect x="353.7" y="263.90" width="7.35" height="1.64" fill="rgb(247,223,169)"/>
<rect x="284.9" y="265.49" width="7.55" height="1.64" fill="rgb(145,186,223)"/>
<rect x="292.4" y="265.49" width="7.45" height="1.64" fill="rgb(139,181,220)"/>
<rect x="299.8" y="265.49" width="7.55" height="1.64" fill="rgb(242,236,203)"/>
<rect x="307.3" y="265.49" width="7.55" height="1.64" fill="rgb(146,187,223)"/>
<rect x="315.9" y="265.49" width="7.45" height="1.64" fill="rgb(245,183,125)"/>
<rect x="323.3" y="265.49" width="7.45" height="1.64" fill="rgb(244,176,119)"/>
<rect x="330.7" y="265.49" width="7.45" height="1.64" fill="rgb(237,239,227)"/>
<rect x="339.1" y="265.49" width="7.35" height="1.64" fill="rgb(246,192,133)"/>
<rect x="346.4" y="265.49" width="7.35" height="1.64" fill="rgb(244,169,113)"/>
<rect x="353.7" y="265.49" width="7.35" height="1.64" fill="rgb(247,206,147)"/>
<rect x="284.9" y="267.08" width="7.55" height="1.64" fill="rgb(169,202,231)"/>
<rect x="292.4" y="267.08" width="7.45" height="1.64" fill="rgb(138,180,219)"/>
<rect x="299.8" y="267.08" width="7.55" height="1.64" fill="rgb(219,231,233)"/>
<rect x="307.3" y="267.08" width="7.55" height="1.64" fill="rgb(146,187,223)"/>
<rect x="315.9" y="267.08" width="7.45" height="1.64" fill="rgb(245,186,128)"/>
<rect x="323.3" y="267.08" width="7.45" height="1.64" fill="rgb(244,170,113)"/>
<rect x="330.7" y="267.08" width="7.45" height="1.64" fill="rgb(247,233,181)"/>
<rect x="339.1" y="267.08" width="7.35" height="1.64" fill="rgb(236,240,232)"/>
<rect x="346.4" y="267.08" width="7.35" height="1.64" fill="rgb(236,240,232)"/>
<rect x="353.7" y="267.08" width="7.35" height="1.64" fill="rgb(247,230,177)"/>
<rect x="284.9" y="268.68" width="7.55" height="1.64" fill="rgb(190,214,235)"/>
<rect x="292.4" y="268.68" width="7.45" height="1.64" fill="rgb(166,200,230)"/>
<rect x="299.8" y="268.68" width="7.55" height="1.64" fill="rgb(227,235,232)"/>
<rect x="307.3" y="268.68" width="7.55" height="1.64" fill="rgb(160,196,228)"/>
<rect x="315.9" y="268.68" width="7.45" height="1.64" fill="rgb(244,168,112)"/>
<rect x="323.3" y="268.68" width="7.45" height="1.64" fill="rgb(243,166,111)"/>
<rect x="330.7" y="268.68" width="7.45" height="1.64" fill="rgb(247,210,153)"/>
<rect x="339.1" y="268.68" width="7.35" height="1.64" fill="rgb(247,214,157)"/>
<rect x="346.4" y="268.68" width="7.35" height="1.64" fill="rgb(241,155,103)"/>
<rect x="353.7" y="268.68" width="7.35" height="1.64" fill="rgb(246,199,139)"/>
<rect x="284.9" y="270.27" width="7.55" height="1.64" fill="rgb(240,237,215)"/>
<rect x="292.4" y="270.27" width="7.45" height="1.64" fill="rgb(172,203,231)"/>
<rect x="299.8" y="270.27" width="7.55" height="1.64" fill="rgb(247,234,182)"/>
<rect x="307.3" y="270.27" width="7.55" height="1.64" fill="rgb(198,219,234)"/>
<rect x="315.9" y="270.27" width="7.45" height="1.64" fill="rgb(238,140,92)"/>
<rect x="323.3" y="270.27" width="7.45" height="1.64" fill="rgb(238,140,92)"/>
<rect x="330.7" y="270.27" width="7.45" height="1.64" fill="rgb(245,184,126)"/>
<rect x="339.1" y="270.27" width="7.35" height="1.64" fill="rgb(242,161,107)"/>
<rect x="346.4" y="270.27" width="7.35" height="1.64" fill="rgb(240,150,99)"/>
<rect x="353.7" y="270.27" width="7.35" height="1.64" fill="rgb(245,183,125)"/>
<rect x="284.9" y="271.86" width="7.55" height="1.64" fill="rgb(184,211,235)"/>
<rect x="292.4" y="271.86" width="7.45" height="1.64" fill="rgb(155,193,226)"/>
<rect x="299.8" y="271.86" width="7.55" height="1.64" fill="rgb(247,218,163)"/>
<rect x="307.3" y="271.86" width="7.55" height="1.64" fill="rgb(173,204,232)"/>
<rect x="315.9" y="271.86" width="7.45" height="1.64" fill="rgb(240,150,99)"/>
<rect x="323.3" y="271.86" width="7.45" height="1.64" fill="rgb(241,154,102)"/>
<rect x="330.7" y="271.86" width="7.45" height="1.64" fill="rgb(247,216,160)"/>
<rect x="339.1" y="271.86" width="7.35" height="1.64" fill="rgb(245,188,130)"/>
<rect x="346.4" y="271.86" width="7.35" height="1.64" fill="rgb(236,240,232)"/>
<rect x="353.7" y="271.86" width="7.35" height="1.64" fill="rgb(247,207,149)"/>
<rect x="284.9" y="273.46" width="7.55" height="1.64" fill="rgb(174,205,232)"/>
<rect x="292.4" y="273.46" width="7.45" height="1.64" fill="rgb(155,193,226)"/>
<rect x="299.8" y="273.46" width="7.55" height="1.64" fill="rgb(247,232,180)"/>
<rect x="307.3" y="273.46" width="7.55" height="1.64" fill="rgb(187,213,235)"/>
<rect x="315.9" y="273.46" width="7.45" height="1.64" fill="rgb(240,151,100)"/>
<rect x="323.3" y="273.46" width="7.45" height="1.64" fill="rgb(243,163,108)"/>
<rect x="330.7" y="273.46" width="7.45" height="1.64" fill="rgb(247,221,166)"/>
<rect x="339.1" y="273.46" width="7.35" height="1.64" fill="rgb(244,178,121)"/>
<rect x="346.4" y="273.46" width="7.35" height="1.64" fill="rgb(244,174,117)"/>
<rect x="353.7" y="273.46" width="7.35" height="1.64" fill="rgb(245,184,126)"/>
<rect x="284.9" y="275.05" width="7.55" height="1.64" fill="rgb(214,228,233)"/>
<rect x="292.4" y="275.05" width="7.45" height="1.64" fill="rgb(149,189,224)"/>
<rect x="299.8" y="275.05" width="7.55" height="1.64" fill="rgb(236,239,231)"/>
<rect x="307.3" y="275.05" width="7.55" height="1.64" fill="rgb(164,199,229)"/>
<rect x="315.9" y="275.05" width="7.45" height="1.64" fill="rgb(243,166,111)"/>
<rect x="323.3" y="275.05" width="7.45" height="1.64" fill="rgb(240,150,99)"/>
<rect x="330.7" y="275.05" width="7.45" height="1.64" fill="rgb(247,227,173)"/>
<rect x="339.1" y="275.05" width="7.35" height="1.64" fill="rgb(245,190,131)"/>
<rect x="346.4" y="275.05" width="7.35" height="1.64" fill="rgb(242,159,105)"/>
<rect x="353.7" y="275.05" width="7.35" height="1.64" fill="rgb(247,207,149)"/>
<rect x="284.9" y="276.64" width="7.55" height="1.64" fill="rgb(236,239,231)"/>
<rect x="292.4" y="276.64" width="7.45" height="1.64" fill="rgb(158,195,227)"/>
<rect x="299.8" y="276.64" width="7.55" height="1.64" fill="rgb(247,231,178)"/>
<rect x="307.3" y="276.64" width="7.55" height="1.64" fill="rgb(219,230,233)"/>
<rect x="315.9" y="276.64" width="7.45" height="1.64" fill="rgb(242,159,106)"/>
<rect x="323.3" y="276.64" width="7.45" height="1.64" fill="rgb(238,140,92)"/>
<rect x="330.7" y="276.64" width="7.45" height="1.64" fill="rgb(247,204,145)"/>
<rect x="339.1" y="276.64" width="7.35" height="1.64" fill="rgb(244,169,113)"/>
<rect x="346.4" y="276.64" width="7.35" height="1.64" fill="rgb(238,140,92)"/>
<rect x="353.7" y="276.64" width="7.35" height="1.64" fill="rgb(246,197,137)"/>
<rect x="284.9" y="278.23" width="7.55" height="1.64" fill="rgb(182,210,235)"/>
<rect x="292.4" y="278.23" width="7.45" height="1.64" fill="rgb(159,196,228)"/>
<rect x="299.8" y="278.23" width="7.55" height="1.64" fill="rgb(247,233,181)"/>
<rect x="307.3" y="278.23" width="7.55" height="1.64" fill="rgb(163,198,229)"/>
<rect x="315.9" y="278.23" width="7.45" height="1.64" fill="rgb(244,175,118)"/>
<rect x="323.3" y="278.23" width="7.45" height="1.64" fill="rgb(242,160,106)"/>
<rect x="330.7" y="278.23" width="7.45" height="1.64" fill="rgb(246,198,139)"/>
<rect x="339.1" y="278.23" width="7.35" height="1.64" fill="rgb(244,169,113)"/>
<rect x="346.4" y="278.23" width="7.35" height="1.64" fill="rgb(242,159,105)"/>
<rect x="353.7" y="278.23" width="7.35" height="1.64" fill="rgb(245,180,123)"/>
<rect x="284.9" y="279.83" width="7.55" height="1.64" fill="rgb(171,203,231)"/>
<rect x="292.4" y="279.83" width="7.45" height="1.64" fill="rgb(148,189,224)"/>
<rect x="299.8" y="279.83" width="7.55" height="1.64" fill="rgb(233,238,232)"/>
<rect x="307.3" y="279.83" width="7.55" height="1.64" fill="rgb(174,205,232)"/>
<rect x="315.9" y="279.83" width="7.45" height="1.64" fill="rgb(239,145,95)"/>
<rect x="323.3" y="279.83" width="7.45" height="1.64" fill="rgb(242,163,108)"/>
<rect x="330.7" y="279.83" width="7.45" height="1.64" fill="rgb(245,188,129)"/>
<rect x="339.1" y="279.83" width="7.35" height="1.64" fill="rgb(245,186,128)"/>
<rect x="346.4" y="279.83" width="7.35" height="1.64" fill="rgb(240,153,101)"/>
<rect x="353.7" y="279.83" width="7.35" height="1.64" fill="rgb(246,198,138)"/>
<rect x="284.9" y="281.42" width="7.55" height="1.64" fill="rgb(221,232,233)"/>
<rect x="292.4" y="281.42" width="7.45" height="1.64" fill="rgb(161,197,228)"/>
<rect x="299.8" y="281.42" width="7.55" height="1.64" fill="rgb(241,237,207)"/>
<rect x="307.3" y="281.42" width="7.55" height="1.64" fill="rgb(220,231,233)"/>
<rect x="315.9" y="281.42" width="7.45" height="1.64" fill="rgb(238,140,92)"/>
<rect x="323.3" y="281.42" width="7.45" height="1.64" fill="rgb(240,150,99)"/>
<rect x="330.7" y="281.42" width="7.45" height="1.64" fill="rgb(246,190,132)"/>
<rect x="339.1" y="281.42" width="7.35" height="1.64" fill="rgb(243,164,109)"/>
<rect x="346.4" y="281.42" width="7.35" height="1.64" fill="rgb(239,145,95)"/>
<rect x="353.7" y="281.42" width="7.35" height="1.64" fill="rgb(245,181,123)"/>
<rect x="284.9" y="283.01" width="7.55" height="1.64" fill="rgb(190,214,235)"/>
<rect x="292.4" y="283.01" width="7.45" height="1.64" fill="rgb(178,207,233)"/>
<rect x="299.8" y="283.01" width="7.55" height="1.64" fill="rgb(236,239,231)"/>
<rect x="307.3" y="283.01" width="7.55" height="1.64" fill="rgb(184,211,235)"/>
<rect x="315.9" y="283.01" width="7.45" height="1.64" fill="rgb(244,170,114)"/>
<rect x="323.3" y="283.01" width="7.45" height="1.64" fill="rgb(242,162,108)"/>
<rect x="330.7" y="283.01" width="7.45" height="1.64" fill="rgb(246,197,138)"/>
<rect x="339.1" y="283.01" width="7.35" height="1.64" fill="rgb(244,171,115)"/>
<rect x="346.4" y="283.01" width="7.35" height="1.64" fill="rgb(241,156,103)"/>
<rect x="353.7" y="283.01" width="7.35" height="1.64" fill="rgb(236,240,232)"/>
<rect x="284.9" y="284.61" width="7.55" height="1.64" fill="rgb(193,216,235)"/>
<rect x="292.4" y="284.61" width="7.45" height="1.64" fill="rgb(158,195,227)"/>
<rect x="299.8" y="284.61" width="7.55" height="1.64" fill="rgb(233,238,232)"/>
<rect x="307.3" y="284.61" width="7.55" height="1.64" fill="rgb(166,200,230)"/>
<rect x="315.9" y="284.61" width="7.45" height="1.64" fill="rgb(239,147,97)"/>
<rect x="323.3" y="284.61" width="7.45" height="1.64" fill="rgb(238,140,92)"/>
<rect x="330.7" y="284.61" width="7.45" height="1.64" fill="rgb(247,203,144)"/>
<rect x="339.1" y="284.61" width="7.35" height="1.64" fill="rgb(236,240,232)"/>
<rect x="346.4" y="284.61" width="7.35" height="1.64" fill="rgb(241,156,103)"/>
<rect x="353.7" y="284.61" width="7.35" height="1.64" fill="rgb(245,184,126)"/>
<rect x="284.9" y="286.20" width="7.55" height="1.64" fill="rgb(150,190,225)"/>
<rect x="292.4" y="286.20" width="7.45" height="1.64" fill="rgb(141,182,221)"/>
<rect x="299.8" y="286.20" width="7.55" height="1.64" fill="rgb(195,217,235)"/>
<rect x="307.3" y="286.20" width="7.55" height="1.64" fill="rgb(143,184,222)"/>
<rect x="315.9" y="286.20" width="7.45" height="1.64" fill="rgb(244,175,118)"/>
<rect x="323.3" y="286.20" width="7.45" height="1.64" fill="rgb(244,168,112)"/>
<rect x="330.7" y="286.20" width="7.45" height="1.64" fill="rgb(236,239,231)"/>
<rect x="339.1" y="286.20" width="7.35" height="1.64" fill="rgb(247,207,148)"/>
<rect x="346.4" y="286.20" width="7.35" height="1.64" fill="rgb(245,185,127)"/>
<rect x="353.7" y="286.20" width="7.35" height="1.64" fill="rgb(236,240,232)"/>
<rect x="284.9" y="287.79" width="7.55" height="1.64" fill="rgb(196,218,235)"/>
<rect x="292.4" y="287.79" width="7.45" height="1.64" fill="rgb(167,200,230)"/>
<rect x="299.8" y="287.79" width="7.55" height="1.64" fill="rgb(247,232,179)"/>
<rect x="307.3" y="287.79" width="7.55" height="1.64" fill="rgb(184,211,235)"/>
<rect x="315.9" y="287.79" width="7.45" height="1.64" fill="rgb(145,186,223)"/>
<rect x="323.3" y="287.79" width="7.45" height="1.64" fill="rgb(169,201,230)"/>
<rect x="330.7" y="287.79" width="7.45" height="1.64" fill="rgb(238,238,220)"/>
<rect x="339.1" y="287.79" width="7.35" height="1.64" fill="rgb(244,169,113)"/>
<rect x="346.4" y="287.79" width="7.35" height="1.64" fill="rgb(238,140,92)"/>
<rect x="353.7" y="287.79" width="7.35" height="1.64" fill="rgb(247,205,145)"/>
<rect x="284.9" y="289.39" width="7.55" height="1.64" fill="rgb(172,204,232)"/>
<rect x="292.4" y="289.39" width="7.45" height="1.64" fill="rgb(153,192,226)"/>
<rect x="299.8" y="289.39" width="7.55" height="1.64" fill="rgb(227,235,232)"/>
<rect x="307.3" y="289.39" width="7.55" height="1.64" fill="rgb(194,217,235)"/>
<rect x="315.9" y="289.39" width="7.45" height="1.64" fill="rgb(134,177,218)"/>
<rect x="323.3" y="289.39" width="7.45" height="1.64" fill="rgb(144,185,222)"/>
<rect x="330.7" y="289.39" width="7.45" height="1.64" fill="rgb(223,233,232)"/>
<rect x="339.1" y="289.39" width="7.35" height="1.64" fill="rgb(246,201,141)"/>
<rect x="346.4" y="289.39" width="7.35" height="1.64" fill="rgb(239,148,97)"/>
<rect x="353.7" y="289.39" width="7.35" height="1.64" fill="rgb(247,218,162)"/>
<rect x="284.9" y="290.98" width="7.55" height="1.64" fill="rgb(165,199,229)"/>
<rect x="292.4" y="290.98" width="7.45" height="1.64" fill="rgb(177,207,233)"/>
<rect x="299.8" y="290.98" width="7.55" height="1.64" fill="rgb(231,237,232)"/>
<rect x="307.3" y="290.98" width="7.55" height="1.64" fill="rgb(178,208,234)"/>
<rect x="315.9" y="290.98" width="7.45" height="1.64" fill="rgb(145,186,222)"/>
<rect x="323.3" y="290.98" width="7.45" height="1.64" fill="rgb(145,186,222)"/>
<rect x="330.7" y="290.98" width="7.45" height="1.64" fill="rgb(176,206,233)"/>
<rect x="339.1" y="290.98" width="7.35" height="1.64" fill="rgb(245,186,128)"/>
<rect x="346.4" y="290.98" width="7.35" height="1.64" fill="rgb(238,142,93)"/>
<rect x="353.7" y="290.98" width="7.35" height="1.64" fill="rgb(247,204,144)"/>
<rect x="284.9" y="292.57" width="7.55" height="1.64" fill="rgb(177,207,233)"/>
<rect x="292.4" y="292.57" width="7.45" height="1.64" fill="rgb(162,198,229)"/>
<rect x="299.8" y="292.57" width="7.55" height="1.64" fill="rgb(239,238,218)"/>
<rect x="307.3" y="292.57" width="7.55" height="1.64" fill="rgb(179,208,234)"/>
<rect x="315.9" y="292.57" width="7.45" height="1.64" fill="rgb(142,183,221)"/>
<rect x="323.3" y="292.57" width="7.45" height="1.64" fill="rgb(152,191,225)"/>
<rect x="330.7" y="292.57" width="7.45" height="1.64" fill="rgb(190,215,235)"/>
<rect x="339.1" y="292.57" width="7.35" height="1.64" fill="rgb(245,184,126)"/>
<rect x="346.4" y="292.57" width="7.35" height="1.64" fill="rgb(244,169,113)"/>
<rect x="353.7" y="292.57" width="7.35" height="1.64" fill="rgb(246,192,133)"/>
<rect x="284.9" y="294.17" width="7.55" height="1.64" fill="rgb(194,217,235)"/>
<rect x="292.4" y="294.17" width="7.45" height="1.64" fill="rgb(174,205,232)"/>
<rect x="299.8" y="294.17" width="7.55" height="1.64" fill="rgb(247,233,180)"/>
<rect x="307.3" y="294.17" width="7.55" height="1.64" fill="rgb(181,209,234)"/>
<rect x="315.9" y="294.17" width="7.45" height="1.64" fill="rgb(149,189,224)"/>
<rect x="323.3" y="294.17" width="7.45" height="1.64" fill="rgb(136,178,219)"/>
<rect x="330.7" y="294.17" width="7.45" height="1.64" fill="rgb(229,236,232)"/>
<rect x="339.1" y="294.17" width="7.35" height="1.64" fill="rgb(243,167,111)"/>
<rect x="346.4" y="294.17" width="7.35" height="1.64" fill="rgb(240,149,99)"/>
<rect x="353.7" y="294.17" width="7.35" height="1.64" fill="rgb(236,240,232)"/>
<rect x="284.9" y="295.76" width="7.55" height="1.64" fill="rgb(161,196,228)"/>
<rect x="292.4" y="295.76" width="7.45" height="1.64" fill="rgb(175,205,232)"/>
<rect x="299.8" y="295.76" width="7.55" height="1.64" fill="rgb(244,235,195)"/>
<rect x="307.3" y="295.76" width="7.55" height="1.64" fill="rgb(172,203,231)"/>
<rect x="315.9" y="295.76" width="7.45" height="1.64" fill="rgb(133,175,217)"/>
<rect x="323.3" y="295.76" width="7.45" height="1.64" fill="rgb(146,187,223)"/>
<rect x="330.7" y="295.76" width="7.45" height="1.64" fill="rgb(198,219,234)"/>
<rect x="339.1" y="295.76" width="7.35" height="1.64" fill="rgb(246,195,136)"/>
<rect x="346.4" y="295.76" width="7.35" height="1.64" fill="rgb(238,140,92)"/>
<rect x="353.7" y="295.76" width="7.35" height="1.64" fill="rgb(246,199,139)"/>
<rect x="284.9" y="297.35" width="7.55" height="1.64" fill="rgb(165,199,229)"/>
<rect x="292.4" y="297.35" width="7.45" height="1.64" fill="rgb(149,189,224)"/>
<rect x="299.8" y="297.35" width="7.55" height="1.64" fill="rgb(244,235,196)"/>
<rect x="307.3" y="297.35" width="7.55" height="1.64" fill="rgb(177,207,233)"/>
<rect x="315.9" y="297.35" width="7.45" height="1.64" fill="rgb(141,183,221)"/>
<rect x="323.3" y="297.35" width="7.45" height="1.64" fill="rgb(209,225,234)"/>
<rect x="330.7" y="297.35" width="7.45" height="1.64" fill="rgb(223,233,232)"/>
<rect x="339.1" y="297.35" width="7.35" height="1.64" fill="rgb(247,217,161)"/>
<rect x="346.4" y="297.35" width="7.35" height="1.64" fill="rgb(241,157,104)"/>
<rect x="353.7" y="297.35" width="7.35" height="1.64" fill="rgb(247,222,167)"/>
<rect x="284.9" y="298.94" width="7.55" height="1.64" fill="rgb(204,222,234)"/>
<rect x="292.4" y="298.94" width="7.45" height="1.64" fill="rgb(181,210,235)"/>
<rect x="299.8" y="298.94" width="7.55" height="1.64" fill="rgb(220,231,233)"/>
<rect x="307.3" y="298.94" width="7.55" height="1.64" fill="rgb(172,204,232)"/>
<rect x="315.9" y="298.94" width="7.45" height="1.64" fill="rgb(134,177,218)"/>
<rect x="323.3" y="298.94" width="7.45" height="1.64" fill="rgb(186,212,235)"/>
<rect x="330.7" y="298.94" width="7.45" height="1.64" fill="rgb(204,222,234)"/>
<rect x="339.1" y="298.94" width="7.35" height="1.64" fill="rgb(243,165,110)"/>
<rect x="346.4" y="298.94" width="7.35" height="1.64" fill="rgb(240,151,100)"/>
<rect x="353.7" y="298.94" width="7.35" height="1.64" fill="rgb(247,226,172)"/>
<rect x="284.9" y="300.54" width="7.55" height="1.64" fill="rgb(188,213,235)"/>
<rect x="292.4" y="300.54" width="7.45" height="1.64" fill="rgb(166,200,230)"/>
<rect x="299.8" y="300.54" width="7.55" height="1.64" fill="rgb(247,233,181)"/>
<rect x="307.3" y="300.54" width="7.55" height="1.64" fill="rgb(198,219,234)"/>
<rect x="315.9" y="300.54" width="7.45" height="1.64" fill="rgb(142,183,221)"/>
<rect x="323.3" y="300.54" width="7.45" height="1.64" fill="rgb(143,184,222)"/>
<rect x="330.7" y="300.54" width="7.45" height="1.64" fill="rgb(229,236,232)"/>
<rect x="339.1" y="300.54" width="7.35" height="1.64" fill="rgb(244,177,120)"/>
<rect x="346.4" y="300.54" width="7.35" height="1.64" fill="rgb(238,141,93)"/>
<rect x="353.7" y="300.54" width="7.35" height="1.64" fill="rgb(246,193,134)"/>
<rect x="284.9" y="302.13" width="7.55" height="1.64" fill="rgb(206,223,234)"/>
<rect x="292.4" y="302.13" width="7.45" height="1.64" fill="rgb(145,186,222)"/>
<rect x="299.8" y="302.13" width="7.55" height="1.64" fill="rgb(244,235,196)"/>
<rect x="307.3" y="302.13" width="7.55" height="1.64" fill="rgb(167,201,230)"/>
<rect x="315.9" y="302.13" width="7.45" height="1.64" fill="rgb(141,182,221)"/>
<rect x="323.3" y="302.13" width="7.45" height="1.64" fill="rgb(145,186,223)"/>
<rect x="330.7" y="302.13" width="7.45" height="1.64" fill="rgb(203,221,234)"/>
<rect x="339.1" y="302.13" width="7.35" height="1.64" fill="rgb(236,240,232)"/>
<rect x="346.4" y="302.13" width="7.35" height="1.64" fill="rgb(242,162,107)"/>
<rect x="353.7" y="302.13" width="7.35" height="1.64" fill="rgb(246,193,134)"/>
<rect x="284.9" y="303.72" width="7.55" height="1.64" fill="rgb(185,212,235)"/>
<rect x="292.4" y="303.72" width="7.45" height="1.64" fill="rgb(173,204,232)"/>
<rect x="299.8" y="303.72" width="7.55" height="1.64" fill="rgb(247,234,182)"/>
<rect x="307.3" y="303.72" width="7.55" height="1.64" fill="rgb(167,201,230)"/>
<rect x="315.9" y="303.72" width="7.45" height="1.64" fill="rgb(144,185,222)"/>
<rect x="323.3" y="303.72" width="7.45" height="1.64" fill="rgb(199,220,234)"/>
<rect x="330.7" y="303.72" width="7.45" height="1.64" fill="rgb(237,239,227)"/>
<rect x="339.1" y="303.72" width="7.35" height="1.64" fill="rgb(242,161,107)"/>
<rect x="346.4" y="303.72" width="7.35" height="1.64" fill="rgb(244,176,119)"/>
<rect x="353.7" y="303.72" width="7.35" height="1.64" fill="rgb(244,171,115)"/>
<rect x="284.9" y="305.32" width="7.55" height="1.64" fill="rgb(190,215,235)"/>
<rect x="292.4" y="305.32" width="7.45" height="1.64" fill="rgb(144,185,222)"/>
<rect x="299.8" y="305.32" width="7.55" height="1.64" fill="rgb(247,226,172)"/>
<rect x="307.3" y="305.32" width="7.55" height="1.64" fill="rgb(176,206,233)"/>
<rect x="315.9" y="305.32" width="7.45" height="1.64" fill="rgb(202,221,234)"/>
<rect x="323.3" y="305.32" width="7.45" height="1.64" fill="rgb(158,195,227)"/>
<rect x="330.7" y="305.32" width="7.45" height="1.64" fill="rgb(235,239,232)"/>
<rect x="339.1" y="305.32" width="7.35" height="1.64" fill="rgb(236,240,232)"/>
<rect x="346.4" y="305.32" width="7.35" height="1.64" fill="rgb(239,147,97)"/>
<rect x="353.7" y="305.32" width="7.35" height="1.64" fill="rgb(245,182,124)"/>
<rect x="284.9" y="306.91" width="7.55" height="1.64" fill="rgb(245,188,129)"/>
<rect x="292.4" y="306.91" width="7.45" height="1.64" fill="rgb(246,200,140)"/>
<rect x="299.8" y="306.91" width="7.55" height="1.64" fill="rgb(246,196,136)"/>
<rect x="307.3" y="306.91" width="7.55" height="1.64" fill="rgb(246,200,140)"/>
<rect x="315.9" y="306.91" width="7.45" height="1.64" fill="rgb(136,178,219)"/>
<rect x="323.3" y="306.91" width="7.45" height="1.64" fill="rgb(143,184,222)"/>
<rect x="330.7" y="306.91" width="7.45" height="1.64" fill="rgb(181,209,234)"/>
<rect x="339.1" y="306.91" width="7.35" height="1.64" fill="rgb(246,191,132)"/>
<rect x="346.4" y="306.91" width="7.35" height="1.64" fill="rgb(241,156,103)"/>
<rect x="353.7" y="306.91" width="7.35" height="1.64" fill="rgb(247,206,147)"/>
<rect x="284.9" y="308.50" width="7.55" height="1.64" fill="rgb(245,184,126)"/>
<rect x="292.4" y="308.50" width="7.45" height="1.64" fill="rgb(244,170,114)"/>
<rect x="299.8" y="308.50" width="7.55" height="1.64" fill="rgb(244,175,118)"/>
<rect x="307.3" y="308.50" width="7.55" height="1.64" fill="rgb(246,194,135)"/>
<rect x="315.9" y="308.50" width="7.45" height="1.64" fill="rgb(134,177,218)"/>
<rect x="323.3" y="308.50" width="7.45" height="1.64" fill="rgb(170,203,231)"/>
<rect x="330.7" y="308.50" width="7.45" height="1.64" fill="rgb(213,227,233)"/>
<rect x="339.1" y="308.50" width="7.35" height="1.64" fill="rgb(244,170,113)"/>
<rect x="346.4" y="308.50" width="7.35" height="1.64" fill="rgb(242,161,107)"/>
<rect x="353.7" y="308.50" width="7.35" height="1.64" fill="rgb(247,217,161)"/>
<rect x="284.9" y="310.10" width="7.55" height="1.64" fill="rgb(247,213,156)"/>
<rect x="292.4" y="310.10" width="7.45" height="1.64" fill="rgb(246,192,133)"/>
<rect x="299.8" y="310.10" width="7.55" height="1.64" fill="rgb(247,233,180)"/>
<rect x="307.3" y="310.10" width="7.55" height="1.64" fill="rgb(247,216,160)"/>
<rect x="315.9" y="310.10" width="7.45" height="1.64" fill="rgb(133,176,217)"/>
<rect x="323.3" y="310.10" width="7.45" height="1.64" fill="rgb(139,181,220)"/>
<rect x="330.7" y="310.10" width="7.45" height="1.64" fill="rgb(216,229,233)"/>
<rect x="339.1" y="310.10" width="7.35" height="1.64" fill="rgb(245,188,130)"/>
<rect x="346.4" y="310.10" width="7.35" height="1.64" fill="rgb(243,164,109)"/>
<rect x="353.7" y="310.10" width="7.35" height="1.64" fill="rgb(247,206,147)"/>
<rect x="284.9" y="311.69" width="7.55" height="1.64" fill="rgb(247,230,177)"/>
<rect x="292.4" y="311.69" width="7.45" height="1.64" fill="rgb(242,162,107)"/>
<rect x="299.8" y="311.69" width="7.55" height="1.64" fill="rgb(247,215,158)"/>
<rect x="307.3" y="311.69" width="7.55" height="1.64" fill="rgb(247,211,154)"/>
<rect x="315.9" y="311.69" width="7.45" height="1.64" fill="rgb(140,181,220)"/>
<rect x="323.3" y="311.69" width="7.45" height="1.64" fill="rgb(134,177,218)"/>
<rect x="330.7" y="311.69" width="7.45" height="1.64" fill="rgb(179,208,234)"/>
<rect x="339.1" y="311.69" width="7.35" height="1.64" fill="rgb(245,185,127)"/>
<rect x="346.4" y="311.69" width="7.35" height="1.64" fill="rgb(242,159,106)"/>
<rect x="353.7" y="311.69" width="7.35" height="1.64" fill="rgb(247,213,156)"/>
<rect x="284.9" y="313.28" width="7.55" height="1.64" fill="rgb(244,176,119)"/>
<rect x="292.4" y="313.28" width="7.45" height="1.64" fill="rgb(239,149,98)"/>
<rect x="299.8" y="313.28" width="7.55" height="1.64" fill="rgb(245,187,128)"/>
<rect x="307.3" y="313.28" width="7.55" height="1.64" fill="rgb(244,177,120)"/>
<rect x="315.9" y="313.28" width="7.45" height="1.64" fill="rgb(141,183,221)"/>
<rect x="323.3" y="313.28" width="7.45" height="1.64" fill="rgb(158,195,227)"/>
<rect x="330.7" y="313.28" width="7.45" height="1.64" fill="rgb(191,215,235)"/>
<rect x="339.1" y="313.28" width="7.35" height="1.64" fill="rgb(244,171,115)"/>
<rect x="346.4" y="313.28" width="7.35" height="1.64" fill="rgb(240,150,99)"/>
<rect x="353.7" y="313.28" width="7.35" height="1.64" fill="rgb(245,189,131)"/>
<rect x="284.9" y="314.88" width="7.55" height="1.64" fill="rgb(245,185,127)"/>
<rect x="292.4" y="314.88" width="7.45" height="1.64" fill="rgb(244,178,121)"/>
<rect x="299.8" y="314.88" width="7.55" height="1.64" fill="rgb(244,175,118)"/>
<rect x="307.3" y="314.88" width="7.55" height="1.64" fill="rgb(246,192,133)"/>
<rect x="315.9" y="314.88" width="7.45" height="1.64" fill="rgb(142,183,221)"/>
<rect x="323.3" y="314.88" width="7.45" height="1.64" fill="rgb(146,187,223)"/>
<rect x="330.7" y="314.88" width="7.45" height="1.64" fill="rgb(222,232,233)"/>
<rect x="339.1" y="314.88" width="7.35" height="1.64" fill="rgb(245,187,129)"/>
<rect x="346.4" y="314.88" width="7.35" height="1.64" fill="rgb(243,167,111)"/>
<rect x="353.7" y="314.88" width="7.35" height="1.64" fill="rgb(245,188,130)"/>
<rect x="284.9" y="316.47" width="7.55" height="1.64" fill="rgb(242,159,106)"/>
<rect x="292.4" y="316.47" width="7.45" height="1.64" fill="rgb(245,179,122)"/>
<rect x="299.8" y="316.47" width="7.55" height="1.64" fill="rgb(245,181,123)"/>
<rect x="307.3" y="316.47" width="7.55" height="1.64" fill="rgb(247,204,145)"/>
<rect x="315.9" y="316.47" width="7.45" height="1.64" fill="rgb(163,198,229)"/>
<rect x="323.3" y="316.47" width="7.45" height="1.64" fill="rgb(145,186,223)"/>
<rect x="330.7" y="316.47" width="7.45" height="1.64" fill="rgb(213,227,233)"/>
<rect x="339.1" y="316.47" width="7.35" height="1.64" fill="rgb(241,154,102)"/>
<rect x="346.4" y="316.47" width="7.35" height="1.64" fill="rgb(240,150,99)"/>
<rect x="353.7" y="316.47" width="7.35" height="1.64" fill="rgb(246,198,138)"/>
<rect x="284.9" y="318.06" width="7.55" height="1.64" fill="rgb(247,209,150)"/>
<rect x="292.4" y="318.06" width="7.45" height="1.64" fill="rgb(243,166,110)"/>
<rect x="299.8" y="318.06" width="7.55" height="1.64" fill="rgb(247,217,161)"/>
<rect x="307.3" y="318.06" width="7.55" height="1.64" fill="rgb(245,185,127)"/>
<rect x="315.9" y="318.06" width="7.45" height="1.64" fill="rgb(191,215,235)"/>
<rect x="323.3" y="318.06" width="7.45" height="1.64" fill="rgb(148,188,224)"/>
<rect x="330.7" y="318.06" width="7.45" height="1.64" fill="rgb(192,216,235)"/>
<rect x="339.1" y="318.06" width="7.35" height="1.64" fill="rgb(246,201,141)"/>
<rect x="346.4" y="318.06" width="7.35" height="1.64" fill="rgb(244,172,115)"/>
<rect x="353.7" y="318.06" width="7.35" height="1.64" fill="rgb(246,194,135)"/>
<rect x="284.9" y="319.66" width="7.55" height="1.64" fill="rgb(247,217,160)"/>
<rect x="292.4" y="319.66" width="7.45" height="1.64" fill="rgb(246,192,133)"/>
<rect x="299.8" y="319.66" width="7.55" height="1.64" fill="rgb(247,211,153)"/>
<rect x="307.3" y="319.66" width="7.55" height="1.64" fill="rgb(247,214,158)"/>
<rect x="315.9" y="319.66" width="7.45" height="1.64" fill="rgb(120,165,212)"/>
<rect x="323.3" y="319.66" width="7.45" height="1.64" fill="rgb(146,187,223)"/>
<rect x="330.7" y="319.66" width="7.45" height="1.64" fill="rgb(210,226,233)"/>
<rect x="339.1" y="319.66" width="7.35" height="1.64" fill="rgb(244,175,118)"/>
<rect x="346.4" y="319.66" width="7.35" height="1.64" fill="rgb(244,177,120)"/>
<rect x="353.7" y="319.66" width="7.35" height="1.64" fill="rgb(239,238,216)"/>
<rect x="284.9" y="321.25" width="7.55" height="1.64" fill="rgb(246,200,140)"/>
<rect x="292.4" y="321.25" width="7.45" height="1.64" fill="rgb(247,203,143)"/>
<rect x="299.8" y="321.25" width="7.55" height="1.64" fill="rgb(247,230,177)"/>
<rect x="307.3" y="321.25" width="7.55" height="1.64" fill="rgb(246,201,141)"/>
<rect x="315.9" y="321.25" width="7.45" height="1.64" fill="rgb(137,179,219)"/>
<rect x="323.3" y="321.25" width="7.45" height="1.64" fill="rgb(137,179,219)"/>
<rect x="330.7" y="321.25" width="7.45" height="1.64" fill="rgb(184,211,235)"/>
<rect x="339.1" y="321.25" width="7.35" height="1.64" fill="rgb(246,195,136)"/>
<rect x="346.4" y="321.25" width="7.35" height="1.64" fill="rgb(245,181,123)"/>
<rect x="353.7" y="321.25" width="7.35" height="1.64" fill="rgb(240,237,214)"/>
<rect x="284.9" y="322.84" width="7.55" height="1.64" fill="rgb(246,192,133)"/>
<rect x="292.4" y="322.84" width="7.45" height="1.64" fill="rgb(244,175,118)"/>
<rect x="299.8" y="322.84" width="7.55" height="1.64" fill="rgb(246,201,141)"/>
<rect x="307.3" y="322.84" width="7.55" height="1.64" fill="rgb(247,214,158)"/>
<rect x="315.9" y="322.84" width="7.45" height="1.64" fill="rgb(136,178,219)"/>
<rect x="323.3" y="322.84" width="7.45" height="1.64" fill="rgb(144,185,222)"/>
<rect x="330.7" y="322.84" width="7.45" height="1.64" fill="rgb(223,233,232)"/>
<rect x="339.1" y="322.84" width="7.35" height="1.64" fill="rgb(245,187,128)"/>
<rect x="346.4" y="322.84" width="7.35" height="1.64" fill="rgb(236,240,232)"/>
<rect x="353.7" y="322.84" width="7.35" height="1.64" fill="rgb(247,218,162)"/>
<rect x="284.9" y="324.43" width="7.55" height="1.64" fill="rgb(246,195,136)"/>
<rect x="292.4" y="324.43" width="7.45" height="1.64" fill="rgb(247,211,153)"/>
<rect x="299.8" y="324.43" width="7.55" height="1.64" fill="rgb(247,212,155)"/>
<rect x="307.3" y="324.43" width="7.55" height="1.64" fill="rgb(247,208,149)"/>
<rect x="315.9" y="324.43" width="7.45" height="1.64" fill="rgb(134,177,218)"/>
<rect x="323.3" y="324.43" width="7.45" height="1.64" fill="rgb(143,184,222)"/>
<rect x="330.7" y="324.43" width="7.45" height="1.64" fill="rgb(214,228,233)"/>
<rect x="339.1" y="324.43" width="7.35" height="1.64" fill="rgb(245,180,122)"/>
<rect x="346.4" y="324.43" width="7.35" height="1.64" fill="rgb(244,174,118)"/>
<rect x="353.7" y="324.43" width="7.35" height="1.64" fill="rgb(247,219,164)"/>
<rect x="284.9" y="326.03" width="7.55" height="1.64" fill="rgb(246,192,133)"/>
<rect x="292.4" y="326.03" width="7.45" height="1.64" fill="rgb(246,196,137)"/>
<rect x="299.8" y="326.03" width="7.55" height="1.64" fill="rgb(246,200,140)"/>
<rect x="307.3" y="326.03" width="7.55" height="1.64" fill="rgb(246,198,139)"/>
<rect x="315.9" y="326.03" width="7.45" height="1.64" fill="rgb(138,180,220)"/>
<rect x="323.3" y="326.03" width="7.45" height="1.64" fill="rgb(158,195,227)"/>
<rect x="330.7" y="326.03" width="7.45" height="1.64" fill="rgb(206,223,234)"/>
<rect x="339.1" y="326.03" width="7.35" height="1.64" fill="rgb(243,167,111)"/>
<rect x="346.4" y="326.03" width="7.35" height="1.64" fill="rgb(243,167,111)"/>
<rect x="353.7" y="326.03" width="7.35" height="1.64" fill="rgb(246,199,139)"/>
<rect x="284.9" y="327.62" width="7.55" height="1.64" fill="rgb(241,157,104)"/>
<rect x="292.4" y="327.62" width="7.45" height="1.64" fill="rgb(241,154,102)"/>
<rect x="299.8" y="327.62" width="7.55" height="1.64" fill="rgb(244,178,121)"/>
<rect x="307.3" y="327.62" width="7.55" height="1.64" fill="rgb(246,192,133)"/>
<rect x="315.9" y="327.62" width="7.45" height="1.64" fill="rgb(152,191,225)"/>
<rect x="323.3" y="327.62" width="7.45" height="1.64" fill="rgb(151,190,225)"/>
<rect x="330.7" y="327.62" width="7.45" height="1.64" fill="rgb(195,217,235)"/>
<rect x="339.1" y="327.62" width="7.35" height="1.64" fill="rgb(242,161,107)"/>
<rect x="346.4" y="327.62" width="7.35" height="1.64" fill="rgb(241,154,102)"/>
<rect x="353.7" y="327.62" width="7.35" height="1.64" fill="rgb(246,190,132)"/>
<rect x="284.9" y="329.21" width="7.55" height="1.64" fill="rgb(238,142,93)"/>
<rect x="292.4" y="329.21" width="7.45" height="1.64" fill="rgb(244,177,120)"/>
<rect x="299.8" y="329.21" width="7.55" height="1.64" fill="rgb(247,208,149)"/>
<rect x="307.3" y="329.21" width="7.55" height="1.64" fill="rgb(244,176,119)"/>
<rect x="315.9" y="329.21" width="7.45" height="1.64" fill="rgb(158,195,227)"/>
<rect x="323.3" y="329.21" width="7.45" height="1.64" fill="rgb(144,185,222)"/>
<rect x="330.7" y="329.21" width="7.45" height="1.64" fill="rgb(219,230,233)"/>
<rect x="339.1" y="329.21" width="7.35" height="1.64" fill="rgb(245,182,124)"/>
<rect x="346.4" y="329.21" width="7.35" height="1.64" fill="rgb(240,151,99)"/>
<rect x="353.7" y="329.21" width="7.35" height="1.64" fill="rgb(244,174,117)"/>
<rect x="284.9" y="330.81" width="7.55" height="1.64" fill="rgb(245,185,127)"/>
<rect x="292.4" y="330.81" width="7.45" height="1.64" fill="rgb(245,190,131)"/>
<rect x="299.8" y="330.81" width="7.55" height="1.64" fill="rgb(244,179,121)"/>
<rect x="307.3" y="330.81" width="7.55" height="1.64" fill="rgb(247,203,144)"/>
<rect x="315.9" y="330.81" width="7.45" height="1.64" fill="rgb(134,176,218)"/>
<rect x="323.3" y="330.81" width="7.45" height="1.64" fill="rgb(157,194,227)"/>
<rect x="330.7" y="330.81" width="7.45" height="1.64" fill="rgb(209,225,234)"/>
<rect x="339.1" y="330.81" width="7.35" height="1.64" fill="rgb(245,184,126)"/>
<rect x="346.4" y="330.81" width="7.35" height="1.64" fill="rgb(245,188,129)"/>
<rect x="353.7" y="330.81" width="7.35" height="1.64" fill="rgb(246,234,187)"/>
<rect x="284.2" y="240.00" width="1.2" height="0.85" fill="rgb(120, 135, 150)"/>
<rect x="284.2" y="240.80" width="1.2" height="0.85" fill="rgb(170, 190, 210)"/>
<rect x="284.2" y="241.59" width="1.2" height="0.85" fill="rgb(70, 78, 90)"/>
<rect x="284.2" y="242.39" width="1.2" height="0.85" fill="rgb(170, 190, 210)"/>
<rect x="284.2" y="243.19" width="1.2" height="0.85" fill="rgb(70, 78, 90)"/>
<rect x="284.2" y="243.98" width="1.2" height="0.85" fill="rgb(90, 100, 115)"/>
<rect x="284.2" y="244.78" width="1.2" height="0.85" fill="rgb(90, 100, 115)"/>
<rect x="284.2" y="245.58" width="1.2" height="0.85" fill="rgb(120, 135, 150)"/>
<rect x="284.2" y="246.37" width="1.2" height="0.85" fill="rgb(80, 90, 100)"/>
<rect x="284.2" y="247.17" width="1.2" height="0.85" fill="rgb(170, 190, 210)"/>
<rect x="284.2" y="247.97" width="1.2" height="0.85" fill="rgb(150, 170, 190)"/>
<rect x="284.2" y="248.76" width="1.2" height="0.85" fill="rgb(150, 170, 190)"/>
<rect x="284.2" y="249.56" width="1.2" height="0.85" fill="rgb(80, 90, 100)"/>
<rect x="284.2" y="250.36" width="1.2" height="0.85" fill="rgb(120, 135, 150)"/>
<rect x="284.2" y="251.15" width="1.2" height="0.85" fill="rgb(70, 78, 90)"/>
<rect x="284.2" y="251.95" width="1.2" height="0.85" fill="rgb(90, 100, 115)"/>
<rect x="284.2" y="252.74" width="1.2" height="0.85" fill="rgb(150, 170, 190)"/>
<rect x="284.2" y="253.54" width="1.2" height="0.85" fill="rgb(90, 100, 115)"/>
<rect x="284.2" y="254.34" width="1.2" height="0.85" fill="rgb(80, 90, 100)"/>
<rect x="284.2" y="255.13" width="1.2" height="0.85" fill="rgb(170, 190, 210)"/>
<rect x="284.2" y="255.93" width="1.2" height="0.85" fill="rgb(70, 78, 90)"/>
<rect x="284.2" y="256.73" width="1.2" height="0.85" fill="rgb(70, 78, 90)"/>
<rect x="284.2" y="257.52" width="1.2" height="0.85" fill="rgb(70, 78, 90)"/>
<rect x="284.2" y="258.32" width="1.2" height="0.85" fill="rgb(70, 78, 90)"/>
<rect x="284.2" y="259.12" width="1.2" height="0.85" fill="rgb(80, 90, 100)"/>
<rect x="284.2" y="259.91" width="1.2" height="0.85" fill="rgb(120, 135, 150)"/>
<rect x="284.2" y="260.71" width="1.2" height="0.85" fill="rgb(120, 135, 150)"/>
<rect x="284.2" y="261.51" width="1.2" height="0.85" fill="rgb(70, 78, 90)"/>
<rect x="284.2" y="262.30" width="1.2" height="0.85" fill="rgb(80, 90, 100)"/>
<rect x="284.2" y="263.10" width="1.2" height="0.85" fill="rgb(120, 135, 150)"/>
<rect x="284.2" y="263.90" width="1.2" height="0.85" fill="rgb(80, 90, 100)"/>
<rect x="284.2" y="264.69" width="1.2" height="0.85" fill="rgb(90, 100, 115)"/>
<rect x="284.2" y="265.49" width="1.2" height="0.85" fill="rgb(150, 170, 190)"/>
<rect x="284.2" y="266.29" width="1.2" height="0.85" fill="rgb(80, 90, 100)"/>
<rect x="284.2" y="267.08" width="1.2" height="0.85" fill="rgb(120, 135, 150)"/>
<rect x="284.2" y="267.88" width="1.2" height="0.85" fill="rgb(80, 90, 100)"/>
<rect x="284.2" y="268.68" width="1.2" height="0.85" fill="rgb(90, 100, 115)"/>
<rect x="284.2" y="269.47" width="1.2" height="0.85" fill="rgb(90, 100, 115)"/>
<rect x="284.2" y="270.27" width="1.2" height="0.85" fill="rgb(120, 135, 150)"/>
<rect x="284.2" y="271.07" width="1.2" height="0.85" fill="rgb(80, 90, 100)"/>
<rect x="284.2" y="271.86" width="1.2" height="0.85" fill="rgb(150, 170, 190)"/>
<rect x="284.2" y="272.66" width="1.2" height="0.85" fill="rgb(90, 100, 115)"/>
<rect x="284.2" y="273.46" width="1.2" height="0.85" fill="rgb(90, 100, 115)"/>
<rect x="284.2" y="274.25" width="1.2" height="0.85" fill="rgb(70, 78, 90)"/>
<rect x="284.2" y="275.05" width="1.2" height="0.85" fill="rgb(90, 100, 115)"/>
<rect x="284.2" y="275.84" width="1.2" height="0.85" fill="rgb(170, 190, 210)"/>
<rect x="284.2" y="276.64" width="1.2" height="0.85" fill="rgb(90, 100, 115)"/>
<rect x="284.2" y="277.44" width="1.2" height="0.85" fill="rgb(150, 170, 190)"/>
<rect x="284.2" y="278.23" width="1.2" height="0.85" fill="rgb(70, 78, 90)"/>
<rect x="284.2" y="279.03" width="1.2" height="0.85" fill="rgb(70, 78, 90)"/>
<rect x="284.2" y="279.83" width="1.2" height="0.85" fill="rgb(170, 190, 210)"/>
<rect x="284.2" y="280.62" width="1.2" height="0.85" fill="rgb(90, 100, 115)"/>
<rect x="284.2" y="281.42" width="1.2" height="0.85" fill="rgb(170, 190, 210)"/>
<rect x="284.2" y="282.22" width="1.2" height="0.85" fill="rgb(120, 135, 150)"/>
<rect x="284.2" y="283.01" width="1.2" height="0.85" fill="rgb(150, 170, 190)"/>
<rect x="284.2" y="283.81" width="1.2" height="0.85" fill="rgb(120, 135, 150)"/>
<rect x="284.2" y="284.61" width="1.2" height="0.85" fill="rgb(70, 78, 90)"/>
<rect x="284.2" y="285.40" width="1.2" height="0.85" fill="rgb(70, 78, 90)"/>
<rect x="284.2" y="286.20" width="1.2" height="0.85" fill="rgb(170, 190, 210)"/>
<rect x="284.2" y="287.00" width="1.2" height="0.85" fill="rgb(80, 90, 100)"/>
<rect x="284.2" y="287.79" width="1.2" height="0.85" fill="rgb(120, 135, 150)"/>
<rect x="284.2" y="288.59" width="1.2" height="0.85" fill="rgb(80, 90, 100)"/>
<rect x="284.2" y="289.39" width="1.2" height="0.85" fill="rgb(170, 190, 210)"/>
<rect x="284.2" y="290.18" width="1.2" height="0.85" fill="rgb(80, 90, 100)"/>
<rect x="284.2" y="290.98" width="1.2" height="0.85" fill="rgb(150, 170, 190)"/>
<rect x="284.2" y="291.78" width="1.2" height="0.85" fill="rgb(80, 90, 100)"/>
<rect x="284.2" y="292.57" width="1.2" height="0.85" fill="rgb(80, 90, 100)"/>
<rect x="284.2" y="293.37" width="1.2" height="0.85" fill="rgb(170, 190, 210)"/>
<rect x="284.2" y="294.17" width="1.2" height="0.85" fill="rgb(150, 170, 190)"/>
<rect x="284.2" y="294.96" width="1.2" height="0.85" fill="rgb(90, 100, 115)"/>
<rect x="284.2" y="295.76" width="1.2" height="0.85" fill="rgb(90, 100, 115)"/>
<rect x="284.2" y="296.56" width="1.2" height="0.85" fill="rgb(70, 78, 90)"/>
<rect x="284.2" y="297.35" width="1.2" height="0.85" fill="rgb(70, 78, 90)"/>
<rect x="284.2" y="298.15" width="1.2" height="0.85" fill="rgb(70, 78, 90)"/>
<rect x="284.2" y="298.94" width="1.2" height="0.85" fill="rgb(80, 90, 100)"/>
<rect x="284.2" y="299.74" width="1.2" height="0.85" fill="rgb(70, 78, 90)"/>
<rect x="284.2" y="300.54" width="1.2" height="0.85" fill="rgb(150, 170, 190)"/>
<rect x="284.2" y="301.33" width="1.2" height="0.85" fill="rgb(90, 100, 115)"/>
<rect x="284.2" y="302.13" width="1.2" height="0.85" fill="rgb(90, 100, 115)"/>
<rect x="284.2" y="302.93" width="1.2" height="0.85" fill="rgb(90, 100, 115)"/>
<rect x="284.2" y="303.72" width="1.2" height="0.85" fill="rgb(70, 78, 90)"/>
<rect x="284.2" y="304.52" width="1.2" height="0.85" fill="rgb(70, 78, 90)"/>
<rect x="284.2" y="305.32" width="1.2" height="0.85" fill="rgb(70, 78, 90)"/>
<rect x="284.2" y="306.11" width="1.2" height="0.85" fill="rgb(80, 90, 100)"/>
<rect x="284.2" y="306.91" width="1.2" height="0.85" fill="rgb(80, 90, 100)"/>
<rect x="284.2" y="307.71" width="1.2" height="0.85" fill="rgb(170, 190, 210)"/>
<rect x="284.2" y="308.50" width="1.2" height="0.85" fill="rgb(90, 100, 115)"/>
<rect x="284.2" y="309.30" width="1.2" height="0.85" fill="rgb(90, 100, 115)"/>
<rect x="284.2" y="310.10" width="1.2" height="0.85" fill="rgb(150, 170, 190)"/>
<rect x="284.2" y="310.89" width="1.2" height="0.85" fill="rgb(90, 100, 115)"/>
<rect x="284.2" y="311.69" width="1.2" height="0.85" fill="rgb(80, 90, 100)"/>
<rect x="284.2" y="312.49" width="1.2" height="0.85" fill="rgb(80, 90, 100)"/>
<rect x="284.2" y="313.28" width="1.2" height="0.85" fill="rgb(170, 190, 210)"/>
<rect x="284.2" y="314.08" width="1.2" height="0.85" fill="rgb(80, 90, 100)"/>
<rect x="284.2" y="314.88" width="1.2" height="0.85" fill="rgb(170, 190, 210)"/>
<rect x="284.2" y="315.67" width="1.2" height="0.85" fill="rgb(170, 190, 210)"/>
<rect x="284.2" y="316.47" width="1.2" height="0.85" fill="rgb(150, 170, 190)"/>
<rect x="284.2" y="317.27" width="1.2" height="0.85" fill="rgb(80, 90, 100)"/>
<rect x="284.2" y="318.06" width="1.2" height="0.85" fill="rgb(90, 100, 115)"/>
<rect x="284.2" y="318.86" width="1.2" height="0.85" fill="rgb(80, 90, 100)"/>
<rect x="284.2" y="319.66" width="1.2" height="0.85" fill="rgb(120, 135, 150)"/>
<rect x="284.2" y="320.45" width="1.2" height="0.85" fill="rgb(70, 78, 90)"/>
<rect x="284.2" y="321.25" width="1.2" height="0.85" fill="rgb(120, 135, 150)"/>
<rect x="284.2" y="322.04" width="1.2" height="0.85" fill="rgb(170, 190, 210)"/>
<rect x="284.2" y="322.84" width="1.2" height="0.85" fill="rgb(70, 78, 90)"/>
<rect x="284.2" y="323.64" width="1.2" height="0.85" fill="rgb(170, 190, 210)"/>
<rect x="284.2" y="324.43" width="1.2" height="0.85" fill="rgb(150, 170, 190)"/>
<rect x="284.2" y="325.23" width="1.2" height="0.85" fill="rgb(170, 190, 210)"/>
<rect x="284.2" y="326.03" width="1.2" height="0.85" fill="rgb(80, 90, 100)"/>
<rect x="284.2" y="326.82" width="1.2" height="0.85" fill="rgb(70, 78, 90)"/>
<rect x="284.2" y="327.62" width="1.2" height="0.85" fill="rgb(150, 170, 190)"/>
<rect x="284.2" y="328.42" width="1.2" height="0.85" fill="rgb(150, 170, 190)"/>
<rect x="284.2" y="329.21" width="1.2" height="0.85" fill="rgb(170, 190, 210)"/>
<rect x="284.2" y="330.01" width="1.2" height="0.85" fill="rgb(150, 170, 190)"/>
<rect x="284.2" y="330.81" width="1.2" height="0.85" fill="rgb(70, 78, 90)"/>
<rect x="284.2" y="331.60" width="1.2" height="0.85" fill="rgb(170, 190, 210)"/>
<rect x="364.4" y="261.7" width="2.4" height="36.4" fill="url(#leg)"/>
<text x="368.4" y="273.2" font-size="7.9" fill="#222" text-anchor="start" font-weight="normal" font-style="normal"  stroke="#222" stroke-width="0.13">5</text>
<text x="368.4" y="285.3" font-size="7.9" fill="#222" text-anchor="start" font-weight="normal" font-style="normal"  stroke="#222" stroke-width="0.13">0</text>
<text x="367.9" y="297.3" font-size="7.9" fill="#222" text-anchor="start" font-weight="normal" font-style="normal"  stroke="#222" stroke-width="0.13">–5</text>
<text x="323.2" y="344.0" font-size="9.6" fill="#222" text-anchor="middle" font-weight="normal" font-style="normal" textLength="75.6" lengthAdjust="spacingAndGlyphs"  stroke="#222" stroke-width="0.13">Hypermethylation</text>
<text x="320.0" y="355.6" font-size="9.6" fill="#222" text-anchor="middle" font-weight="normal" font-style="normal" textLength="28.6" lengthAdjust="spacingAndGlyphs"  stroke="#222" stroke-width="0.13">profile</text>
<g style="isolation:isolate">
<circle cx="424.2" cy="295.2" r="31" fill="#a8cec4"/>
<circle cx="469.1" cy="295.4" r="31" fill="#d5dcaa"/>
<path d="M446.65,273.92 A31,31 0 0 1 446.65,316.68 A31,31 0 0 1 446.65,273.92 Z" fill="#b1c2a3"/>
<text x="418.3" y="249.9" font-size="8.3" fill="#222" text-anchor="middle" font-weight="normal" font-style="normal" textLength="54.8" lengthAdjust="spacingAndGlyphs"  stroke="#222" stroke-width="0.13">Downregulated</text>
<text x="418.4" y="259.6" font-size="8.3" fill="#222" text-anchor="middle" font-weight="normal" font-style="normal" textLength="20.6" lengthAdjust="spacingAndGlyphs"  stroke="#222" stroke-width="0.13">genes</text>
<text x="474.3" y="249.9" font-size="8.3" fill="#222" text-anchor="middle" font-weight="normal" font-style="normal" textLength="45.0" lengthAdjust="spacingAndGlyphs"  stroke="#222" stroke-width="0.13">Differentially</text>
<text x="473.6" y="259.6" font-size="8.3" fill="#222" text-anchor="middle" font-weight="normal" font-style="normal" textLength="38" lengthAdjust="spacingAndGlyphs"  stroke="#222" stroke-width="0.13">methylated</text>
<text x="424" y="298.2" font-size="8.6" fill="#222" text-anchor="middle" font-weight="normal" font-style="normal" textLength="13.5" lengthAdjust="spacingAndGlyphs"  stroke="#222" stroke-width="0.13">435</text>
<text x="447" y="298.2" font-size="8.6" fill="#222" text-anchor="middle" font-weight="normal" font-style="normal" textLength="9" lengthAdjust="spacingAndGlyphs"  stroke="#222" stroke-width="0.13">23</text>
<text x="469" y="298.2" font-size="8.6" fill="#222" text-anchor="middle" font-weight="normal" font-style="normal" textLength="13.5" lengthAdjust="spacingAndGlyphs"  stroke="#222" stroke-width="0.13">156</text>
<text x="449.4" y="338.0" font-size="9.5" fill="#222" text-anchor="middle" font-weight="normal" font-style="normal" textLength="54.4" lengthAdjust="spacingAndGlyphs"  stroke="#222" stroke-width="0.13">23 candidate</text>
<text x="448.7" y="349.2" font-size="9.5" fill="#222" text-anchor="middle" font-weight="normal" font-style="normal" textLength="102.4" lengthAdjust="spacingAndGlyphs"  stroke="#222" stroke-width="0.13">tumor suppressor genes</text>
<rect x="0.5" y="0.5" width="518.6" height="371.6" fill="none" stroke="#111" stroke-width="1"/>
<line x1="519.4" y1="0" x2="519.4" y2="373" stroke="#111" stroke-width="1.3"/>
<line x1="0" y1="372.4" x2="520" y2="372.4" stroke="#111" stroke-width="1.3"/>
</svg></body></html>
